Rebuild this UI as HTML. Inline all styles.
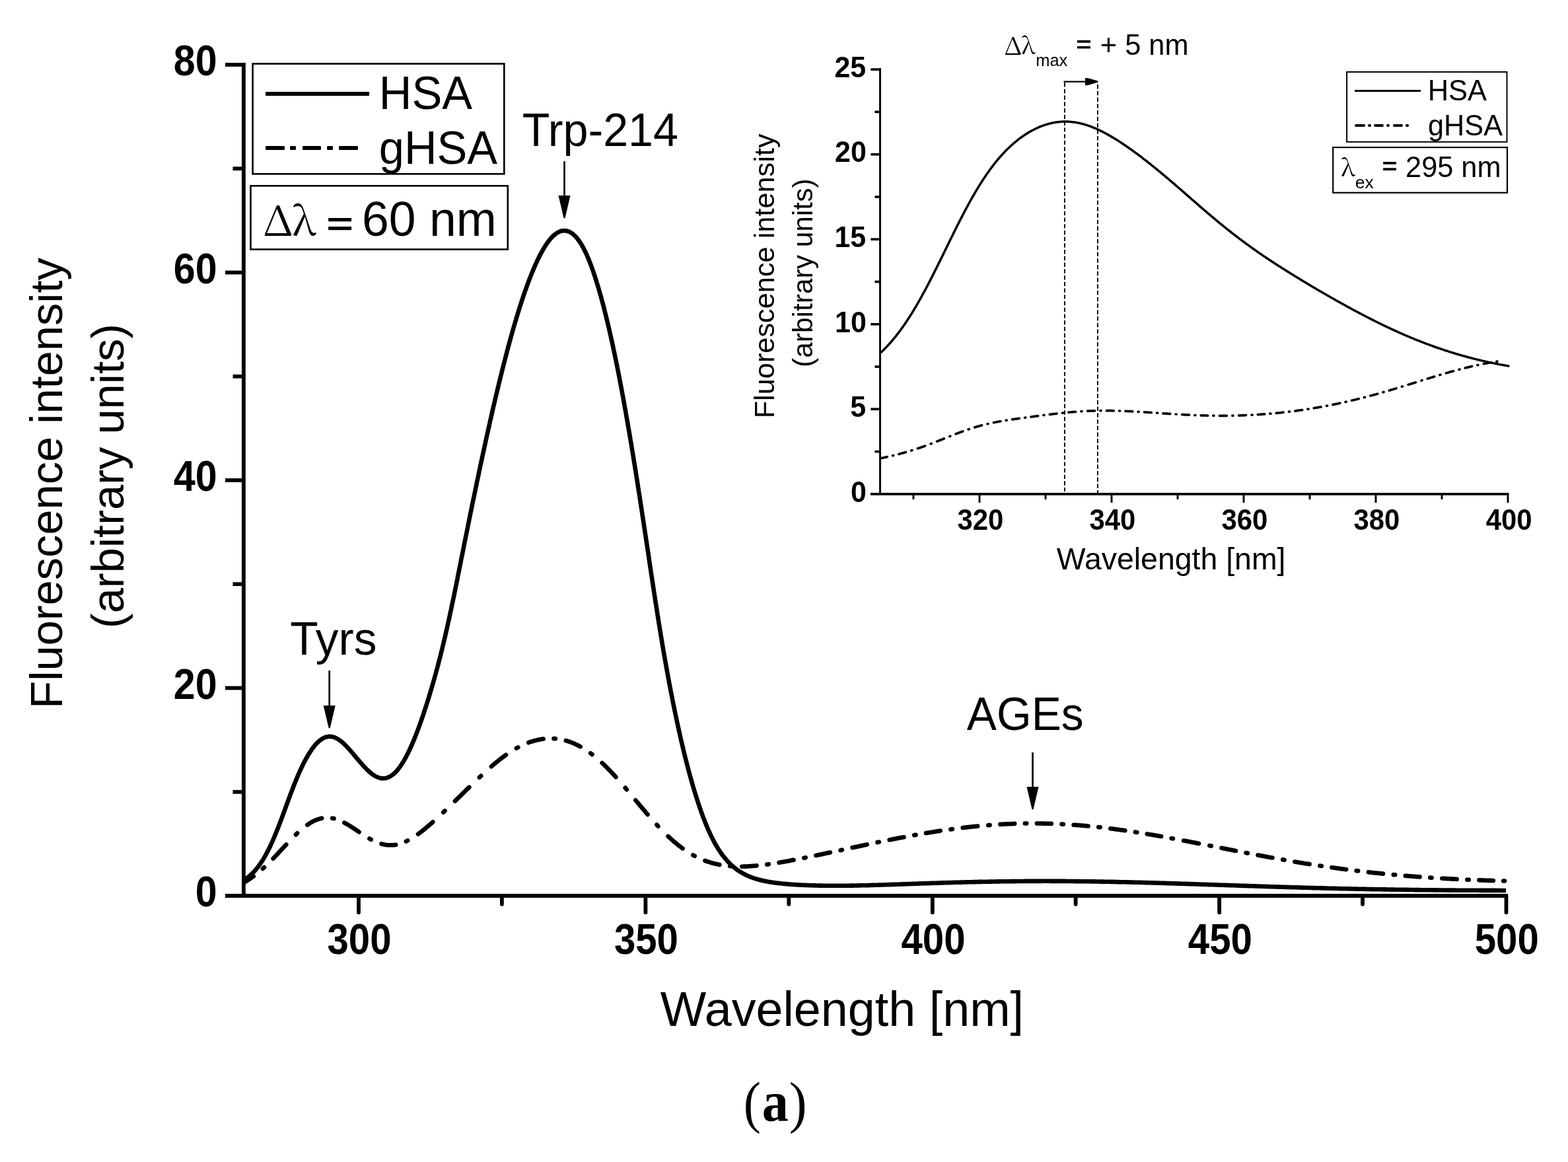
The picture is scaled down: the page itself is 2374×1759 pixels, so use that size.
<!DOCTYPE html>
<html><head><meta charset="utf-8"><title>Fluorescence spectra</title>
<style>html,body{margin:0;padding:0;background:#fff;overflow:hidden}svg{display:block}</style>
</head><body>
<svg width="2374" height="1759" viewBox="0 0 2374 1759">
<rect width="100%" height="100%" fill="#fff"/>
<g stroke="#000" stroke-width="5.8" fill="none">
<path d="M368.9 95.1V1356.0"/>
<path d="M341 1356.0H2282.9"/>
<path d="M341 1041.5H371"/>
<path d="M341 727.0H371"/>
<path d="M341 412.5H371"/>
<path d="M341 98.0H371"/>
<path d="M352.5 1198.8H371"/>
<path d="M352.5 884.2H371"/>
<path d="M352.5 569.8H371"/>
<path d="M352.5 255.2H371"/>
<path d="M543.0 1356.0V1381.3" stroke-linecap="round"/>
<path d="M977.4 1356.0V1381.3" stroke-linecap="round"/>
<path d="M1411.8 1356.0V1381.3" stroke-linecap="round"/>
<path d="M1846.1 1356.0V1381.3" stroke-linecap="round"/>
<path d="M2280.5 1356.0V1381.3" stroke-linecap="round"/>
<path d="M759.9 1356.0V1368.8" stroke-linecap="round"/>
<path d="M1194.3 1356.0V1368.8" stroke-linecap="round"/>
<path d="M1628.6 1356.0V1368.8" stroke-linecap="round"/>
<path d="M2063.0 1356.0V1368.8" stroke-linecap="round"/>
</g>
<text transform="matrix(0.9100 0 0 1.0000 295.64 1372.25)" style="font-family:'Liberation Sans',Arial,Helvetica,sans-serif;font-weight:bold;font-size:65.00px">0</text>
<text transform="matrix(0.9100 0 0 1.0000 262.75 1057.75)" style="font-family:'Liberation Sans',Arial,Helvetica,sans-serif;font-weight:bold;font-size:65.00px">20</text>
<text transform="matrix(0.9100 0 0 1.0000 262.75 743.25)" style="font-family:'Liberation Sans',Arial,Helvetica,sans-serif;font-weight:bold;font-size:65.00px">40</text>
<text transform="matrix(0.9100 0 0 1.0000 262.75 428.75)" style="font-family:'Liberation Sans',Arial,Helvetica,sans-serif;font-weight:bold;font-size:65.00px">60</text>
<text transform="matrix(0.9100 0 0 1.0000 262.75 114.25)" style="font-family:'Liberation Sans',Arial,Helvetica,sans-serif;font-weight:bold;font-size:65.00px">80</text>
<text transform="matrix(0.8950 0 0 1.0000 495.51 1444.29)" style="font-family:'Liberation Sans',Arial,Helvetica,sans-serif;font-weight:bold;font-size:65.00px">300</text>
<text transform="matrix(0.8950 0 0 1.0000 929.88 1444.29)" style="font-family:'Liberation Sans',Arial,Helvetica,sans-serif;font-weight:bold;font-size:65.00px">350</text>
<text transform="matrix(0.8950 0 0 1.0000 1364.49 1444.35)" style="font-family:'Liberation Sans',Arial,Helvetica,sans-serif;font-weight:bold;font-size:65.00px">400</text>
<text transform="matrix(0.8950 0 0 1.0000 1798.86 1444.35)" style="font-family:'Liberation Sans',Arial,Helvetica,sans-serif;font-weight:bold;font-size:65.00px">450</text>
<text transform="matrix(0.8950 0 0 1.0000 2232.77 1444.35)" style="font-family:'Liberation Sans',Arial,Helvetica,sans-serif;font-weight:bold;font-size:65.00px">500</text>
<text transform="matrix(1.0002 0 0 1.0000 999.83 1553.20)" style="font-family:'Liberation Sans',Arial,Helvetica,sans-serif;font-weight:normal;font-size:73.70px">Wavelength [nm]</text>
<text transform="matrix(0 -1.0001 1 0 94.00 1072.63)" style="font-family:'Liberation Sans',Arial,Helvetica,sans-serif;font-weight:normal;font-size:68.60px">Fluorescence intensity</text>
<text transform="matrix(0 -1.0003 1 0 187.30 951.15)" style="font-family:'Liberation Sans',Arial,Helvetica,sans-serif;font-weight:normal;font-size:68.60px">(arbitrary units)</text>
<path d="M368.0 1332.6L369.7 1331.7 371.5 1330.6 373.1 1329.5 374.8 1328.4 376.4 1327.2 377.9 1325.9 379.4 1324.6 380.9 1323.2 382.3 1321.8 383.7 1320.4 385.1 1319.0 386.4 1317.5 387.7 1315.9 389.0 1314.4 390.2 1312.8 391.4 1311.2 392.6 1309.6 393.8 1308.0 394.9 1306.3 396.0 1304.7 397.1 1303.0 398.2 1301.3 399.2 1299.6 400.2 1297.8 401.2 1296.1 402.2 1294.4 403.1 1292.6 404.1 1290.9 405.0 1289.1 405.9 1287.3 406.8 1285.5 407.7 1283.7 408.6 1281.9 409.5 1280.1 410.3 1278.3 411.1 1276.5 412.0 1274.7 412.8 1272.8 413.6 1271.0 414.4 1269.2 415.2 1267.3 415.9 1265.5 416.7 1263.6 417.5 1261.8 418.2 1259.9 419.0 1258.1 419.7 1256.2 420.5 1254.4 421.2 1252.5 421.9 1250.6 422.6 1248.8 423.4 1246.9 424.1 1245.0 424.8 1243.2 425.5 1241.3 426.2 1239.4 426.9 1237.5 427.6 1235.7 428.3 1233.8 429.0 1231.9 429.7 1230.0 430.4 1228.2 431.1 1226.3 431.7 1224.4 432.4 1222.5 433.1 1220.6 433.8 1218.8 434.5 1216.9 435.2 1215.0 435.9 1213.1 436.6 1211.3 437.2 1209.4 437.9 1207.5 438.6 1205.6 439.3 1203.7 440.0 1201.9 440.7 1200.0 441.4 1198.1 442.2 1196.3 442.9 1194.4 443.6 1192.5 444.3 1190.7 445.0 1188.8 445.8 1186.9 446.5 1185.1 447.3 1183.2 448.0 1181.4 448.8 1179.5 449.5 1177.7 450.3 1175.8 451.1 1174.0 451.9 1172.1 452.7 1170.3 453.5 1168.5 454.3 1166.7 455.2 1164.8 456.0 1163.0 456.9 1161.2 457.7 1159.4 458.6 1157.6 459.5 1155.8 460.4 1154.0 461.3 1152.3 462.3 1150.5 463.2 1148.7 464.2 1147.0 465.2 1145.3 466.2 1143.5 467.2 1141.8 468.3 1140.1 469.4 1138.4 470.5 1136.8 471.6 1135.1 472.7 1133.5 473.9 1131.9 475.2 1130.3 476.4 1128.7 477.7 1127.2 479.1 1125.7 480.5 1124.3 481.9 1122.9 483.4 1121.6 485.0 1120.3 486.6 1119.2 488.3 1118.1 490.0 1117.1 491.8 1116.3 493.7 1115.7 495.7 1115.2 497.7 1114.9 499.7 1114.9 501.7 1115.0 503.6 1115.4 505.5 1115.9 507.4 1116.6 509.2 1117.5 511.0 1118.4 512.7 1119.5 514.3 1120.6 515.9 1121.8 517.5 1123.1 519.0 1124.4 520.5 1125.7 521.9 1127.1 523.3 1128.5 524.7 1130.0 526.1 1131.4 527.5 1132.9 528.8 1134.4 530.1 1135.9 531.5 1137.4 532.8 1138.9 534.1 1140.4 535.4 1141.9 536.6 1143.5 537.9 1145.0 539.2 1146.5 540.5 1148.1 541.8 1149.6 543.1 1151.1 544.4 1152.7 545.7 1154.2 547.0 1155.7 548.3 1157.2 549.6 1158.7 551.0 1160.2 552.4 1161.6 553.8 1163.1 555.2 1164.5 556.6 1165.9 558.1 1167.2 559.5 1168.6 561.1 1169.9 562.6 1171.1 564.2 1172.3 565.9 1173.4 567.6 1174.5 569.3 1175.5 571.2 1176.3 573.0 1177.1 574.9 1177.6 576.9 1178.1 578.9 1178.3 580.9 1178.3 582.9 1178.2 584.8 1177.8 586.7 1177.2 588.6 1176.4 590.4 1175.5 592.1 1174.5 593.7 1173.4 595.3 1172.1 596.8 1170.8 598.3 1169.4 599.6 1168.0 601.0 1166.5 602.3 1165.0 603.5 1163.4 604.7 1161.8 605.9 1160.2 607.0 1158.6 608.2 1156.9 609.2 1155.2 610.3 1153.5 611.3 1151.8 612.3 1150.1 613.3 1148.3 614.3 1146.6 615.2 1144.8 616.1 1143.0 617.1 1141.2 618.0 1139.5 618.8 1137.7 619.7 1135.9 620.6 1134.0 621.4 1132.2 622.2 1130.4 623.0 1128.6 623.8 1126.8 624.6 1124.9 625.4 1123.1 626.2 1121.2 627.0 1119.4 627.7 1117.5 628.5 1115.7 629.2 1113.8 629.9 1112.0 630.7 1110.1 631.4 1108.2 632.1 1106.4 632.8 1104.5 633.5 1102.6 634.2 1100.7 634.9 1098.8 635.5 1097.0 636.2 1095.1 636.9 1093.2 637.6 1091.3 638.2 1089.4 638.9 1087.5 639.5 1085.6 640.2 1083.7 640.8 1081.8 641.4 1079.9 642.1 1078.0 642.7 1076.1 643.3 1074.2 643.9 1072.3 644.6 1070.4 645.2 1068.5 645.8 1066.6 646.4 1064.7 647.0 1062.8 647.6 1060.9 648.2 1059.0 648.8 1057.1 649.4 1055.2 649.9 1053.3 650.5 1051.3 651.1 1049.4 651.7 1047.5 652.2 1045.6 652.8 1043.7 653.4 1041.8 654.0 1039.8 654.5 1037.9 655.1 1036.0 655.6 1034.1 656.2 1032.2 656.7 1030.2 657.3 1028.3 657.8 1026.4 658.4 1024.5 658.9 1022.5 659.4 1020.6 660.0 1018.7 660.5 1016.7 661.0 1014.8 661.5 1012.9 662.1 1010.9 662.6 1009.0 663.1 1007.1 663.6 1005.1 664.1 1003.2 664.6 1001.3 665.1 999.3 665.6 997.4 666.1 995.5 666.6 993.5 667.1 991.6 667.6 989.6 668.0 987.7 668.5 985.8 669.0 983.8 669.5 981.9 670.0 979.9 670.4 978.0 670.9 976.0 671.4 974.1 671.8 972.1 672.3 970.2 672.7 968.3 673.2 966.3 673.7 964.4 674.1 962.4 674.6 960.5 675.0 958.5 675.4 956.6 675.9 954.6 676.3 952.7 676.8 950.7 677.2 948.7 677.6 946.8 678.1 944.8 678.5 942.9 678.9 940.9 679.4 939.0 679.8 937.0 680.2 935.1 680.7 933.1 681.1 931.2 681.5 929.2 681.9 927.3 682.3 925.3 682.8 923.3 683.2 921.4 683.6 919.4 684.0 917.5 684.4 915.5 684.8 913.5 685.2 911.6 685.6 909.6 686.0 907.7 686.5 905.7 686.9 903.8 687.3 901.8 687.7 899.8 688.1 897.9 688.5 895.9 688.9 894.0 689.3 892.0 689.7 890.0 690.1 888.1 690.5 886.1 690.9 884.2 691.3 882.2 691.7 880.2 692.1 878.3 692.5 876.3 692.8 874.3 693.2 872.4 693.6 870.4 694.0 868.5 694.4 866.5 694.8 864.5 695.2 862.6 695.6 860.6 696.0 858.7 696.4 856.7 696.8 854.7 697.2 852.8 697.6 850.8 697.9 848.8 698.3 846.9 698.7 844.9 699.1 843.0 699.5 841.0 699.9 839.0 700.3 837.1 700.7 835.1 701.1 833.1 701.5 831.2 701.9 829.2 702.2 827.3 702.6 825.3 703.0 823.3 703.4 821.4 703.8 819.4 704.2 817.5 704.6 815.5 705.0 813.5 705.4 811.6 705.8 809.6 706.2 807.6 706.6 805.7 707.0 803.7 707.4 801.8 707.8 799.8 708.2 797.8 708.5 795.9 708.9 793.9 709.3 792.0 709.7 790.0 710.1 788.0 710.5 786.1 710.9 784.1 711.3 782.1 711.7 780.2 712.1 778.2 712.5 776.3 712.9 774.3 713.3 772.3 713.7 770.4 714.1 768.4 714.5 766.5 714.9 764.5 715.3 762.5 715.7 760.6 716.1 758.6 716.5 756.7 716.9 754.7 717.4 752.7 717.8 750.8 718.2 748.8 718.6 746.9 719.0 744.9 719.4 743.0 719.8 741.0 720.2 739.0 720.6 737.1 721.0 735.1 721.4 733.2 721.8 731.2 722.2 729.2 722.6 727.3 723.1 725.3 723.5 723.4 723.9 721.4 724.3 719.5 724.7 717.5 725.1 715.5 725.5 713.6 725.9 711.6 726.4 709.7 726.8 707.7 727.2 705.7 727.6 703.8 728.0 701.8 728.4 699.9 728.9 697.9 729.3 696.0 729.7 694.0 730.1 692.1 730.5 690.1 731.0 688.1 731.4 686.2 731.8 684.2 732.2 682.3 732.7 680.3 733.1 678.4 733.5 676.4 733.9 674.5 734.4 672.5 734.8 670.5 735.2 668.6 735.6 666.6 736.1 664.7 736.5 662.7 736.9 660.8 737.4 658.8 737.8 656.9 738.2 654.9 738.7 653.0 739.1 651.0 739.5 649.1 740.0 647.1 740.4 645.1 740.8 643.2 741.3 641.2 741.7 639.3 742.1 637.3 742.6 635.4 743.0 633.4 743.5 631.5 743.9 629.5 744.4 627.6 744.8 625.6 745.3 623.7 745.7 621.7 746.1 619.8 746.6 617.8 747.0 615.9 747.5 613.9 748.0 612.0 748.4 610.0 748.9 608.1 749.3 606.1 749.8 604.2 750.2 602.2 750.7 600.3 751.1 598.4 751.6 596.4 752.1 594.5 752.5 592.5 753.0 590.6 753.5 588.6 753.9 586.7 754.4 584.7 754.9 582.8 755.3 580.8 755.8 578.9 756.3 577.0 756.8 575.0 757.2 573.1 757.7 571.1 758.2 569.2 758.7 567.2 759.2 565.3 759.6 563.4 760.1 561.4 760.6 559.5 761.1 557.5 761.6 555.6 762.1 553.7 762.6 551.7 763.1 549.8 763.6 547.8 764.1 545.9 764.6 544.0 765.1 542.0 765.6 540.1 766.1 538.2 766.6 536.2 767.1 534.3 767.6 532.3 768.1 530.4 768.6 528.5 769.1 526.5 769.6 524.6 770.2 522.7 770.7 520.7 771.2 518.8 771.7 516.9 772.3 515.0 772.8 513.0 773.3 511.1 773.9 509.2 774.4 507.2 774.9 505.3 775.5 503.4 776.0 501.5 776.6 499.5 777.1 497.6 777.7 495.7 778.2 493.8 778.8 491.9 779.4 489.9 779.9 488.0 780.5 486.1 781.1 484.2 781.6 482.3 782.2 480.3 782.8 478.4 783.4 476.5 783.9 474.6 784.5 472.7 785.1 470.8 785.7 468.9 786.3 467.0 786.9 465.0 787.5 463.1 788.1 461.2 788.8 459.3 789.4 457.4 790.0 455.5 790.6 453.6 791.3 451.7 791.9 449.8 792.5 447.9 793.2 446.0 793.8 444.1 794.5 442.3 795.1 440.4 795.8 438.5 796.5 436.6 797.1 434.7 797.8 432.8 798.5 431.0 799.2 429.1 799.9 427.2 800.6 425.3 801.3 423.5 802.0 421.6 802.8 419.7 803.5 417.9 804.2 416.0 805.0 414.1 805.7 412.3 806.5 410.4 807.3 408.6 808.0 406.8 808.8 404.9 809.6 403.1 810.4 401.3 811.3 399.4 812.1 397.6 812.9 395.8 813.8 394.0 814.6 392.2 815.5 390.4 816.4 388.6 817.3 386.8 818.2 385.0 819.2 383.3 820.1 381.5 821.1 379.8 822.1 378.0 823.1 376.3 824.2 374.6 825.2 372.9 826.3 371.2 827.4 369.5 828.5 367.9 829.7 366.3 830.9 364.7 832.1 363.1 833.4 361.6 834.7 360.1 836.1 358.6 837.5 357.2 839.0 355.8 840.5 354.6 842.2 353.4 843.8 352.3 845.6 351.3 847.4 350.5 849.3 349.8 851.3 349.4 853.2 349.2 855.2 349.2 857.2 349.4 859.2 349.8 861.1 350.5 862.9 351.3 864.6 352.3 866.3 353.4 867.9 354.7 869.4 356.0 870.8 357.4 872.2 358.8 873.5 360.3 874.7 361.9 875.9 363.5 877.1 365.1 878.2 366.8 879.3 368.5 880.3 370.2 881.4 371.9 882.3 373.7 883.3 375.4 884.2 377.2 885.1 379.0 886.0 380.8 886.9 382.6 887.7 384.4 888.5 386.2 889.3 388.0 890.1 389.9 890.9 391.7 891.7 393.6 892.4 395.4 893.1 397.3 893.9 399.2 894.6 401.0 895.3 402.9 895.9 404.8 896.6 406.7 897.3 408.6 898.0 410.4 898.6 412.3 899.2 414.2 899.9 416.1 900.5 418.0 901.1 419.9 901.7 421.8 902.3 423.7 902.9 425.6 903.5 427.6 904.1 429.5 904.7 431.4 905.3 433.3 905.9 435.2 906.4 437.1 907.0 439.1 907.5 441.0 908.1 442.9 908.6 444.8 909.2 446.8 909.7 448.7 910.2 450.6 910.8 452.5 911.3 454.5 911.8 456.4 912.3 458.3 912.8 460.3 913.4 462.2 913.9 464.1 914.4 466.1 914.9 468.0 915.3 470.0 915.8 471.9 916.3 473.8 916.8 475.8 917.3 477.7 917.8 479.7 918.2 481.6 918.7 483.5 919.2 485.5 919.7 487.4 920.1 489.4 920.6 491.3 921.0 493.3 921.5 495.2 922.0 497.2 922.4 499.1 922.9 501.1 923.3 503.0 923.7 505.0 924.2 506.9 924.6 508.9 925.1 510.8 925.5 512.8 925.9 514.7 926.4 516.7 926.8 518.6 927.2 520.6 927.6 522.6 928.1 524.5 928.5 526.5 928.9 528.4 929.3 530.4 929.7 532.3 930.1 534.3 930.6 536.3 931.0 538.2 931.4 540.2 931.8 542.1 932.2 544.1 932.6 546.1 933.0 548.0 933.4 550.0 933.8 551.9 934.2 553.9 934.6 555.9 935.0 557.8 935.3 559.8 935.7 561.7 936.1 563.7 936.5 565.7 936.9 567.6 937.3 569.6 937.7 571.6 938.0 573.5 938.4 575.5 938.8 577.5 939.2 579.4 939.5 581.4 939.9 583.3 940.3 585.3 940.7 587.3 941.0 589.2 941.4 591.2 941.8 593.2 942.1 595.1 942.5 597.1 942.9 599.1 943.2 601.0 943.6 603.0 944.0 605.0 944.3 607.0 944.7 608.9 945.0 610.9 945.4 612.9 945.7 614.8 946.1 616.8 946.4 618.8 946.8 620.7 947.1 622.7 947.5 624.7 947.8 626.6 948.2 628.6 948.5 630.6 948.9 632.6 949.2 634.5 949.6 636.5 949.9 638.5 950.3 640.4 950.6 642.4 950.9 644.4 951.3 646.4 951.6 648.3 952.0 650.3 952.3 652.3 952.6 654.2 953.0 656.2 953.3 658.2 953.6 660.2 954.0 662.1 954.3 664.1 954.6 666.1 955.0 668.1 955.3 670.0 955.6 672.0 956.0 674.0 956.3 675.9 956.6 677.9 956.9 679.9 957.3 681.9 957.6 683.8 957.9 685.8 958.2 687.8 958.6 689.8 958.9 691.7 959.2 693.7 959.5 695.7 959.8 697.7 960.2 699.6 960.5 701.6 960.8 703.6 961.1 705.6 961.4 707.5 961.7 709.5 962.1 711.5 962.4 713.5 962.7 715.4 963.0 717.4 963.3 719.4 963.6 721.4 963.9 723.3 964.3 725.3 964.6 727.3 964.9 729.3 965.2 731.3 965.5 733.2 965.8 735.2 966.1 737.2 966.4 739.2 966.7 741.1 967.0 743.1 967.3 745.1 967.7 747.1 968.0 749.0 968.3 751.0 968.6 753.0 968.9 755.0 969.2 757.0 969.5 758.9 969.8 760.9 970.1 762.9 970.4 764.9 970.7 766.8 971.0 768.8 971.3 770.8 971.6 772.8 971.9 774.8 972.2 776.7 972.5 778.7 972.8 780.7 973.1 782.7 973.4 784.6 973.7 786.6 974.0 788.6 974.3 790.6 974.6 792.6 974.9 794.5 975.2 796.5 975.5 798.5 975.8 800.5 976.1 802.4 976.4 804.4 976.7 806.4 977.0 808.4 977.3 810.4 977.6 812.3 977.9 814.3 978.2 816.3 978.5 818.3 978.8 820.3 979.1 822.2 979.4 824.2 979.7 826.2 980.0 828.2 980.3 830.1 980.6 832.1 980.9 834.1 981.2 836.1 981.5 838.1 981.8 840.0 982.1 842.0 982.4 844.0 982.6 846.0 982.9 848.0 983.2 849.9 983.5 851.9 983.8 853.9 984.1 855.9 984.4 857.8 984.7 859.8 985.0 861.8 985.3 863.8 985.6 865.8 985.9 867.7 986.2 869.7 986.5 871.7 986.8 873.7 987.1 875.7 987.4 877.6 987.7 879.6 988.0 881.6 988.3 883.6 988.6 885.5 988.9 887.5 989.2 889.5 989.5 891.5 989.8 893.5 990.1 895.4 990.4 897.4 990.7 899.4 991.0 901.4 991.3 903.3 991.6 905.3 991.9 907.3 992.2 909.3 992.5 911.3 992.9 913.2 993.2 915.2 993.5 917.2 993.8 919.2 994.1 921.1 994.4 923.1 994.7 925.1 995.0 927.1 995.3 929.0 995.6 931.0 995.9 933.0 996.3 935.0 996.6 936.9 996.9 938.9 997.2 940.9 997.5 942.9 997.8 944.9 998.2 946.8 998.5 948.8 998.8 950.8 999.1 952.8 999.4 954.7 999.8 956.7 1000.1 958.7 1000.4 960.6 1000.7 962.6 1001.1 964.6 1001.4 966.6 1001.7 968.5 1002.0 970.5 1002.4 972.5 1002.7 974.5 1003.0 976.4 1003.4 978.4 1003.7 980.4 1004.0 982.4 1004.4 984.3 1004.7 986.3 1005.1 988.3 1005.4 990.2 1005.7 992.2 1006.1 994.2 1006.4 996.2 1006.8 998.1 1007.1 1000.1 1007.5 1002.1 1007.8 1004.0 1008.2 1006.0 1008.5 1008.0 1008.9 1009.9 1009.2 1011.9 1009.6 1013.9 1009.9 1015.9 1010.3 1017.8 1010.7 1019.8 1011.0 1021.8 1011.4 1023.7 1011.7 1025.7 1012.1 1027.7 1012.5 1029.6 1012.8 1031.6 1013.2 1033.6 1013.6 1035.5 1014.0 1037.5 1014.3 1039.5 1014.7 1041.4 1015.1 1043.4 1015.5 1045.4 1015.8 1047.3 1016.2 1049.3 1016.6 1051.2 1017.0 1053.2 1017.4 1055.2 1017.8 1057.1 1018.1 1059.1 1018.5 1061.1 1018.9 1063.0 1019.3 1065.0 1019.7 1066.9 1020.1 1068.9 1020.5 1070.9 1020.9 1072.8 1021.3 1074.8 1021.7 1076.7 1022.1 1078.7 1022.5 1080.7 1022.9 1082.6 1023.3 1084.6 1023.8 1086.5 1024.2 1088.5 1024.6 1090.5 1025.0 1092.4 1025.4 1094.4 1025.9 1096.3 1026.3 1098.3 1026.7 1100.2 1027.1 1102.2 1027.6 1104.1 1028.0 1106.1 1028.4 1108.0 1028.9 1110.0 1029.3 1111.9 1029.7 1113.9 1030.2 1115.9 1030.6 1117.8 1031.1 1119.8 1031.5 1121.7 1032.0 1123.7 1032.4 1125.6 1032.9 1127.5 1033.4 1129.5 1033.8 1131.4 1034.3 1133.4 1034.7 1135.3 1035.2 1137.3 1035.7 1139.2 1036.2 1141.2 1036.6 1143.1 1037.1 1145.0 1037.6 1147.0 1038.1 1148.9 1038.6 1150.9 1039.1 1152.8 1039.6 1154.7 1040.1 1156.7 1040.6 1158.6 1041.1 1160.6 1041.6 1162.5 1042.1 1164.4 1042.6 1166.4 1043.1 1168.3 1043.6 1170.2 1044.2 1172.2 1044.7 1174.1 1045.2 1176.0 1045.8 1177.9 1046.3 1179.9 1046.8 1181.8 1047.4 1183.7 1047.9 1185.6 1048.5 1187.6 1049.1 1189.5 1049.6 1191.4 1050.2 1193.3 1050.8 1195.2 1051.3 1197.2 1051.9 1199.1 1052.5 1201.0 1053.1 1202.9 1053.7 1204.8 1054.3 1206.7 1054.9 1208.6 1055.5 1210.5 1056.1 1212.4 1056.7 1214.3 1057.3 1216.2 1058.0 1218.1 1058.6 1220.0 1059.3 1221.9 1059.9 1223.8 1060.6 1225.7 1061.2 1227.6 1061.9 1229.5 1062.6 1231.4 1063.3 1233.3 1063.9 1235.1 1064.6 1237.0 1065.4 1238.9 1066.1 1240.7 1066.8 1242.6 1067.5 1244.5 1068.3 1246.3 1069.0 1248.2 1069.8 1250.0 1070.6 1251.9 1071.3 1253.7 1072.1 1255.6 1072.9 1257.4 1073.8 1259.2 1074.6 1261.0 1075.4 1262.8 1076.3 1264.6 1077.2 1266.4 1078.1 1268.2 1079.0 1270.0 1079.9 1271.8 1080.8 1273.6 1081.8 1275.3 1082.7 1277.1 1083.7 1278.8 1084.7 1280.6 1085.8 1282.3 1086.8 1284.0 1087.9 1285.7 1089.0 1287.4 1090.1 1289.0 1091.2 1290.7 1092.3 1292.3 1093.5 1293.9 1094.7 1295.5 1096.0 1297.1 1097.2 1298.7 1098.5 1300.2 1099.8 1301.7 1101.1 1303.2 1102.5 1304.7 1103.9 1306.1 1105.3 1307.5 1106.7 1308.9 1108.2 1310.3 1109.7 1311.6 1111.2 1312.9 1112.8 1314.1 1114.4 1315.4 1116.0 1316.6 1117.6 1317.7 1119.3 1318.8 1121.0 1319.9 1122.7 1320.9 1124.4 1321.9 1126.2 1322.9 1127.9 1323.8 1129.7 1324.7 1131.6 1325.5 1133.4 1326.3 1135.2 1327.1 1137.1 1327.8 1139.0 1328.5 1140.9 1329.2 1142.8 1329.8 1144.7 1330.4 1146.6 1331.0 1148.5 1331.5 1150.4 1332.0 1152.4 1332.5 1154.3 1333.0 1156.3 1333.4 1158.2 1333.8 1160.2 1334.2 1162.2 1334.6 1164.1 1334.9 1166.1 1335.2 1168.1 1335.6 1170.1 1335.9 1172.1 1336.1 1174.0 1336.4 1176.0 1336.6 1178.0 1336.9 1180.0 1337.1 1182.0 1337.3 1184.0 1337.5 1186.0 1337.7 1188.0 1337.9 1190.0 1338.1 1191.9 1338.3 1193.9 1338.4 1195.9 1338.6 1197.9 1338.7 1199.9 1338.9 1201.9 1339.0 1203.9 1339.1 1205.9 1339.3 1207.9 1339.4 1209.9 1339.5 1211.9 1339.6 1213.9 1339.7 1215.9 1339.8 1217.9 1339.9 1219.9 1339.9 1221.9 1340.0 1223.9 1340.1 1225.9 1340.2 1227.9 1340.2 1229.9 1340.3 1231.9 1340.4 1233.9 1340.4 1235.9 1340.5 1237.9 1340.5 1239.9 1340.6 1241.9 1340.6 1243.9 1340.6 1245.9 1340.7 1247.9 1340.7 1249.9 1340.7 1251.9 1340.7 1253.9 1340.8 1255.9 1340.8 1257.9 1340.8 1259.9 1340.8 1261.9 1340.8 1263.9 1340.8 1265.9 1340.8 1267.9 1340.8 1269.9 1340.8 1271.9 1340.8 1273.9 1340.8 1275.9 1340.8 1277.9 1340.8 1279.9 1340.7 1281.9 1340.7 1283.9 1340.7 1285.9 1340.7 1287.9 1340.6 1289.9 1340.6 1291.9 1340.6 1293.9 1340.5 1295.9 1340.5 1297.9 1340.5 1299.9 1340.4 1301.9 1340.4 1303.9 1340.3 1305.9 1340.3 1307.9 1340.3 1309.9 1340.2 1311.9 1340.2 1313.9 1340.1 1315.9 1340.1 1317.9 1340.0 1319.9 1339.9 1321.9 1339.9 1323.9 1339.8 1325.9 1339.8 1327.9 1339.7 1329.9 1339.6 1331.9 1339.6 1333.9 1339.5 1335.9 1339.5 1337.9 1339.4 1339.9 1339.3 1341.9 1339.3 1343.9 1339.2 1345.9 1339.1 1347.9 1339.1 1349.9 1339.0 1351.9 1338.9 1353.9 1338.9 1355.9 1338.8 1357.9 1338.7 1359.9 1338.7 1361.9 1338.6 1363.9 1338.5 1365.9 1338.4 1367.9 1338.4 1369.9 1338.3 1371.9 1338.2 1373.9 1338.2 1375.9 1338.1 1377.9 1338.0 1379.9 1338.0 1381.9 1337.9 1383.9 1337.8 1385.9 1337.8 1387.9 1337.7 1389.9 1337.6 1391.9 1337.5 1393.9 1337.5 1395.9 1337.4 1397.9 1337.3 1399.9 1337.3 1401.9 1337.2 1403.9 1337.1 1405.9 1337.1 1407.9 1337.0 1409.9 1336.9 1411.9 1336.9 1413.9 1336.8 1415.9 1336.7 1417.9 1336.7 1419.9 1336.6 1421.9 1336.6 1423.9 1336.5 1425.9 1336.4 1427.9 1336.4 1429.9 1336.3 1431.9 1336.2 1433.9 1336.2 1435.9 1336.1 1437.9 1336.1 1439.9 1336.0 1441.9 1336.0 1443.9 1335.9 1445.9 1335.8 1447.9 1335.8 1449.9 1335.7 1451.9 1335.7 1453.9 1335.6 1455.9 1335.6 1457.9 1335.5 1459.9 1335.5 1461.9 1335.4 1463.9 1335.4 1465.9 1335.3 1467.9 1335.3 1469.9 1335.2 1471.9 1335.2 1473.9 1335.1 1475.9 1335.1 1477.9 1335.0 1479.9 1335.0 1481.9 1334.9 1483.9 1334.9 1485.9 1334.9 1487.9 1334.8 1489.9 1334.8 1491.9 1334.7 1493.9 1334.7 1495.9 1334.7 1497.9 1334.6 1499.9 1334.6 1501.9 1334.6 1503.9 1334.5 1505.9 1334.5 1507.9 1334.5 1509.9 1334.4 1511.9 1334.4 1513.9 1334.4 1515.9 1334.3 1517.9 1334.3 1519.9 1334.3 1521.9 1334.2 1523.9 1334.2 1525.9 1334.2 1527.9 1334.2 1529.9 1334.1 1531.9 1334.1 1533.9 1334.1 1535.9 1334.1 1537.9 1334.1 1539.9 1334.0 1541.9 1334.0 1543.9 1334.0 1545.9 1334.0 1547.9 1334.0 1549.9 1334.0 1551.9 1333.9 1553.9 1333.9 1555.9 1333.9 1557.9 1333.9 1559.9 1333.9 1561.9 1333.9 1563.9 1333.9 1565.9 1333.9 1567.9 1333.9 1569.9 1333.9 1571.9 1333.9 1573.9 1333.9 1575.9 1333.9 1577.9 1333.8 1579.9 1333.8 1581.9 1333.8 1583.9 1333.8 1585.9 1333.8 1587.9 1333.8 1589.9 1333.9 1591.9 1333.9 1593.9 1333.9 1595.9 1333.9 1597.9 1333.9 1599.9 1333.9 1601.9 1333.9 1603.9 1333.9 1605.9 1333.9 1607.9 1333.9 1609.9 1333.9 1611.9 1333.9 1613.9 1334.0 1615.9 1334.0 1617.9 1334.0 1619.9 1334.0 1621.9 1334.0 1623.9 1334.0 1625.9 1334.0 1627.9 1334.1 1629.9 1334.1 1631.9 1334.1 1633.9 1334.1 1635.9 1334.1 1637.9 1334.2 1639.9 1334.2 1641.9 1334.2 1643.9 1334.2 1645.9 1334.3 1648.0 1334.3 1650.0 1334.3 1652.0 1334.4 1654.0 1334.4 1656.0 1334.4 1658.0 1334.4 1660.0 1334.5 1662.0 1334.5 1664.0 1334.5 1666.0 1334.6 1668.0 1334.6 1670.0 1334.6 1672.0 1334.7 1674.0 1334.7 1676.0 1334.7 1678.0 1334.8 1680.0 1334.8 1682.0 1334.9 1684.0 1334.9 1686.0 1334.9 1688.0 1335.0 1690.0 1335.0 1692.0 1335.1 1694.0 1335.1 1696.0 1335.2 1698.0 1335.2 1700.0 1335.2 1702.0 1335.3 1704.0 1335.3 1706.0 1335.4 1708.0 1335.4 1710.0 1335.5 1712.0 1335.5 1714.0 1335.6 1716.0 1335.6 1718.0 1335.7 1720.0 1335.7 1722.0 1335.8 1724.0 1335.8 1726.0 1335.9 1728.0 1335.9 1730.0 1336.0 1732.0 1336.0 1734.0 1336.1 1736.0 1336.1 1738.0 1336.2 1740.0 1336.2 1742.0 1336.3 1744.0 1336.4 1746.0 1336.4 1748.0 1336.5 1750.0 1336.5 1752.0 1336.6 1754.0 1336.6 1756.0 1336.7 1758.0 1336.8 1760.0 1336.8 1762.0 1336.9 1764.0 1336.9 1766.0 1337.0 1768.0 1337.1 1770.0 1337.1 1772.0 1337.2 1774.0 1337.2 1776.0 1337.3 1778.0 1337.4 1780.0 1337.4 1782.0 1337.5 1784.0 1337.6 1786.0 1337.6 1788.0 1337.7 1790.0 1337.7 1792.0 1337.8 1794.0 1337.9 1796.0 1337.9 1798.0 1338.0 1800.0 1338.1 1802.0 1338.1 1804.0 1338.2 1806.0 1338.3 1808.0 1338.3 1810.0 1338.4 1812.0 1338.5 1814.0 1338.5 1816.0 1338.6 1818.0 1338.7 1820.0 1338.7 1822.0 1338.8 1824.0 1338.9 1826.0 1338.9 1828.0 1339.0 1830.0 1339.1 1832.0 1339.1 1833.9 1339.2 1835.9 1339.3 1837.9 1339.3 1839.9 1339.4 1841.9 1339.5 1843.9 1339.5 1845.9 1339.6 1847.9 1339.7 1849.9 1339.7 1851.9 1339.8 1853.9 1339.9 1855.9 1339.9 1857.9 1340.0 1859.9 1340.1 1861.9 1340.1 1863.9 1340.2 1865.9 1340.3 1867.9 1340.3 1869.9 1340.4 1871.9 1340.5 1873.9 1340.5 1875.9 1340.6 1877.9 1340.7 1879.9 1340.7 1881.9 1340.8 1883.9 1340.9 1885.9 1340.9 1887.9 1341.0 1889.9 1341.1 1891.9 1341.1 1893.9 1341.2 1895.9 1341.3 1897.9 1341.3 1899.9 1341.4 1901.9 1341.5 1903.9 1341.5 1905.9 1341.6 1907.9 1341.7 1909.9 1341.7 1911.9 1341.8 1913.9 1341.9 1915.9 1341.9 1917.9 1342.0 1919.9 1342.1 1921.9 1342.1 1923.9 1342.2 1925.9 1342.2 1927.9 1342.3 1929.9 1342.4 1931.9 1342.4 1933.9 1342.5 1935.9 1342.6 1937.9 1342.6 1939.9 1342.7 1941.9 1342.7 1943.9 1342.8 1945.9 1342.9 1947.9 1342.9 1949.9 1343.0 1951.9 1343.0 1953.9 1343.1 1955.9 1343.2 1957.9 1343.2 1959.9 1343.3 1961.9 1343.3 1963.9 1343.4 1965.9 1343.4 1967.9 1343.5 1969.9 1343.6 1971.9 1343.6 1973.9 1343.7 1975.9 1343.7 1977.9 1343.8 1979.9 1343.8 1981.9 1343.9 1983.9 1344.0 1985.9 1344.0 1987.9 1344.1 1989.9 1344.1 1991.9 1344.2 1993.9 1344.2 1995.9 1344.3 1997.9 1344.3 1999.9 1344.4 2001.9 1344.4 2003.9 1344.5 2005.9 1344.5 2007.9 1344.6 2009.9 1344.6 2011.9 1344.7 2013.9 1344.7 2015.9 1344.8 2017.9 1344.8 2019.9 1344.9 2021.9 1344.9 2023.9 1345.0 2025.9 1345.0 2027.9 1345.1 2029.9 1345.1 2031.9 1345.2 2033.9 1345.2 2035.9 1345.2 2037.9 1345.3 2039.9 1345.3 2041.9 1345.4 2043.9 1345.4 2045.9 1345.5 2047.9 1345.5 2049.9 1345.5 2051.9 1345.6 2053.9 1345.6 2055.9 1345.7 2057.9 1345.7 2059.9 1345.8 2061.9 1345.8 2063.9 1345.8 2065.9 1345.9 2067.9 1345.9 2069.9 1346.0 2071.9 1346.0 2073.9 1346.0 2075.9 1346.1 2077.9 1346.1 2079.9 1346.1 2081.9 1346.2 2083.9 1346.2 2085.9 1346.2 2087.9 1346.3 2089.9 1346.3 2091.9 1346.3 2093.9 1346.4 2095.9 1346.4 2097.9 1346.4 2099.9 1346.5 2101.9 1346.5 2103.9 1346.5 2105.9 1346.6 2107.9 1346.6 2109.9 1346.6 2111.9 1346.7 2113.9 1346.7 2115.9 1346.7 2117.9 1346.8 2119.9 1346.8 2121.9 1346.8 2123.9 1346.8 2125.9 1346.9 2127.9 1346.9 2130.0 1346.9 2132.0 1346.9 2134.0 1347.0 2136.0 1347.0 2138.0 1347.0 2140.0 1347.0 2142.0 1347.1 2144.0 1347.1 2146.0 1347.1 2148.0 1347.1 2150.0 1347.2 2152.0 1347.2 2154.0 1347.2 2156.0 1347.2 2158.0 1347.3 2160.0 1347.3 2162.0 1347.3 2164.0 1347.3 2166.0 1347.3 2168.0 1347.4 2170.0 1347.4 2172.0 1347.4 2174.0 1347.4 2176.0 1347.4 2178.0 1347.5 2180.0 1347.5 2182.0 1347.5 2184.0 1347.5 2186.0 1347.5 2188.0 1347.5 2190.0 1347.6 2192.0 1347.6 2194.0 1347.6 2196.0 1347.6 2198.0 1347.6 2200.0 1347.6 2202.0 1347.6 2204.0 1347.7 2206.0 1347.7 2208.0 1347.7 2210.0 1347.7 2212.0 1347.7 2214.0 1347.7 2216.0 1347.7 2218.0 1347.7 2220.0 1347.8 2222.0 1347.8 2224.0 1347.8 2226.0 1347.8 2228.0 1347.8 2230.0 1347.8 2232.0 1347.8 2234.0 1347.8 2236.0 1347.8 2238.0 1347.8 2240.0 1347.9 2242.0 1347.9 2244.0 1347.9 2246.0 1347.9 2248.0 1347.9 2250.0 1347.9 2252.0 1347.9 2254.0 1347.9 2256.0 1347.9 2258.0 1347.9 2260.0 1347.9 2262.0 1347.9 2264.0 1347.9 2266.0 1347.9 2268.0 1348.0 2270.0 1348.0 2272.0 1348.0 2274.0 1348.0 2276.0 1348.0 2278.0 1348.0 2280.0 1348.0" fill="none" stroke="#000" stroke-width="6.6" stroke-linejoin="round"/>
<path d="M369.5 1335.9L370.7 1335.2 372.0 1334.4 373.2 1333.7 374.4 1332.9 375.6 1332.2 376.8 1331.4 378.0 1330.6 379.2 1329.8 380.4 1329.0 381.5 1328.2 382.7 1327.3 383.9 1326.5M397.9 1314.9L399.0 1314.0 400.0 1313.0M413.6 1299.6L414.6 1298.6 415.6 1297.5 416.6 1296.5 417.6 1295.4 418.6 1294.4 419.6 1293.3 420.6 1292.3 421.5 1291.2 422.5 1290.2 423.5 1289.1 424.5 1288.1 425.5 1287.0 426.4 1285.9 427.4 1284.9 428.4 1283.8 429.4 1282.7 430.4 1281.7 431.3 1280.6 432.3 1279.6 433.3 1278.5M447.9 1263.5L448.6 1262.7 449.4 1262.0 450.1 1261.3M465.3 1248.7L466.5 1247.9 467.7 1247.1 468.9 1246.3 470.1 1245.5 471.3 1244.8 472.6 1244.1 473.9 1243.4 475.1 1242.8 476.4 1242.2 477.7 1241.6 479.1 1241.1 480.4 1240.6 481.8 1240.1 483.1 1239.7 484.5 1239.3 485.9 1238.9 487.3 1238.6M503.1 1238.6L504.3 1238.9 505.5 1239.1M521.3 1245.4L522.6 1246.1 523.9 1246.8 525.2 1247.5 526.4 1248.2 527.7 1249.0 528.9 1249.7 530.2 1250.5 531.4 1251.3 532.6 1252.1 533.9 1252.9 535.1 1253.7 536.3 1254.5 537.5 1255.3 538.7 1256.1 539.9 1256.9 541.2 1257.8 542.4 1258.6 543.6 1259.4M559.4 1269.5L560.6 1270.1 561.8 1270.8M577.4 1277.4L578.8 1277.7 580.3 1278.1 581.7 1278.4 583.1 1278.7 584.6 1278.9 586.0 1279.1 587.5 1279.2 589.0 1279.3 590.4 1279.3 591.9 1279.3 593.4 1279.3 594.8 1279.2 596.3 1279.1 597.7 1278.9 599.2 1278.7M614.8 1273.6L616.0 1273.0 617.2 1272.4M633.0 1262.6L634.2 1261.7 635.4 1260.8 636.5 1260.0 637.7 1259.1 638.8 1258.2 639.9 1257.3 641.1 1256.4 642.2 1255.5 643.3 1254.6 644.4 1253.7 645.5 1252.8 646.6 1251.8 647.7 1250.9 648.8 1250.0 649.9 1249.0 651.0 1248.1 652.1 1247.1 653.2 1246.2 654.3 1245.2 655.3 1244.3M671.1 1229.7L671.9 1229.0 672.7 1228.2 673.5 1227.4M688.9 1212.6L690.0 1211.5 691.1 1210.5 692.2 1209.4 693.2 1208.4 694.3 1207.3 695.4 1206.3 696.5 1205.3 697.5 1204.2 698.6 1203.2 699.7 1202.1 700.7 1201.1 701.8 1200.0 702.9 1199.0 703.9 1197.9 705.0 1196.9 706.1 1195.8 707.2 1194.8 708.2 1193.7 709.3 1192.7 710.4 1191.7M725.8 1176.8L726.6 1176.0 727.4 1175.3 728.2 1174.6M743.9 1160.3L745.0 1159.4 746.1 1158.4 747.3 1157.4 748.4 1156.5 749.5 1155.5 750.7 1154.6 751.8 1153.6 753.0 1152.7 754.2 1151.7 755.3 1150.8 756.5 1149.9 757.7 1149.0 758.8 1148.1 760.0 1147.2 761.2 1146.3 762.4 1145.4 763.6 1144.5 764.8 1143.6 766.0 1142.8M781.9 1132.7L783.1 1132.0 784.3 1131.4M800.2 1124.1L801.6 1123.6 803.0 1123.2 804.3 1122.7 805.7 1122.3 807.1 1121.8 808.5 1121.4 809.9 1121.1 811.3 1120.7 812.7 1120.4 814.1 1120.0 815.5 1119.7 816.9 1119.5 818.3 1119.2 819.7 1119.0 821.2 1118.8 822.6 1118.6M838.5 1118.0L839.7 1118.1 840.9 1118.2M856.7 1121.1L858.2 1121.5 859.6 1122.0 861.0 1122.4 862.4 1122.9 863.8 1123.4 865.2 1123.9 866.6 1124.5 868.0 1125.0 869.4 1125.6 870.7 1126.2 872.1 1126.9 873.4 1127.5 874.8 1128.2 876.1 1128.8 877.4 1129.5 878.7 1130.3M894.1 1140.2L895.3 1141.1 896.5 1142.0M911.6 1154.9L912.7 1155.9 913.8 1156.9 914.8 1158.0 915.9 1159.0 917.0 1160.0 918.0 1161.1 919.1 1162.1 920.1 1163.2 921.2 1164.3 922.2 1165.3 923.2 1166.4 924.3 1167.5 925.3 1168.5 926.3 1169.6 927.3 1170.7 928.3 1171.8 929.4 1172.9 930.4 1174.0 931.4 1175.1 932.4 1176.2M946.7 1192.6L947.4 1193.5 948.2 1194.3 948.9 1195.2M962.3 1211.3L963.3 1212.5 964.3 1213.6 965.2 1214.8 966.2 1215.9 967.1 1217.1 968.1 1218.2 969.0 1219.4 970.0 1220.5 971.0 1221.6 971.9 1222.8 972.9 1223.9 973.8 1225.1 974.8 1226.2 975.8 1227.4 976.7 1228.5 977.7 1229.6 978.7 1230.8 979.6 1231.9 980.6 1233.0M994.3 1248.4L995.0 1249.2 995.8 1250.0 996.5 1250.8M1011.5 1265.9L1012.5 1266.9 1013.6 1267.8 1014.6 1268.8 1015.7 1269.8 1016.8 1270.7 1017.8 1271.7 1018.9 1272.6 1020.0 1273.6 1021.1 1274.5 1022.2 1275.4 1023.3 1276.4 1024.4 1277.3 1025.5 1278.2 1026.6 1279.1 1027.8 1280.0 1028.9 1280.8 1030.0 1281.7 1031.2 1282.6 1032.3 1283.4 1033.5 1284.3M1049.3 1294.4L1050.5 1295.1 1051.7 1295.7M1067.4 1302.8L1068.7 1303.3 1070.0 1303.8 1071.4 1304.3 1072.8 1304.7 1074.1 1305.2 1075.5 1305.6 1076.9 1306.0 1078.2 1306.4 1079.6 1306.8 1081.0 1307.1 1082.4 1307.5 1083.8 1307.8 1085.2 1308.1 1086.6 1308.4 1088.0 1308.7 1089.4 1309.0M1105.2 1311.1L1106.4 1311.2 1107.6 1311.3M1123.4 1311.7L1124.9 1311.7 1126.3 1311.6 1127.8 1311.6 1129.3 1311.5 1130.8 1311.5 1132.2 1311.4 1133.7 1311.3 1135.2 1311.2 1136.7 1311.1 1138.1 1311.0 1139.6 1310.9 1141.1 1310.8 1142.6 1310.7 1144.0 1310.5 1145.5 1310.4M1161.3 1308.6L1162.5 1308.4 1163.7 1308.2M1179.5 1305.8L1181.0 1305.5 1182.4 1305.3 1183.9 1305.0 1185.4 1304.8 1186.9 1304.5 1188.3 1304.2 1189.8 1304.0 1191.3 1303.7 1192.8 1303.4 1194.2 1303.2 1195.7 1302.9 1197.2 1302.6 1198.6 1302.3 1200.1 1302.1 1201.6 1301.8M1217.3 1298.7L1218.5 1298.5 1219.7 1298.2M1235.3 1295.0L1236.7 1294.7 1238.2 1294.4 1239.6 1294.1 1241.0 1293.8 1242.5 1293.5 1243.9 1293.2 1245.4 1292.9 1246.8 1292.6 1248.3 1292.3 1249.7 1291.9 1251.2 1291.6 1252.6 1291.3 1254.1 1291.0 1255.5 1290.7 1256.9 1290.4M1272.5 1287.1L1273.7 1286.8 1274.9 1286.5M1290.6 1283.1L1292.0 1282.9 1293.4 1282.6 1294.8 1282.3 1296.1 1282.0 1297.5 1281.7 1298.9 1281.4 1300.3 1281.1 1301.7 1280.8 1303.1 1280.5 1304.4 1280.2 1305.8 1279.9 1307.2 1279.6 1308.6 1279.3 1310.0 1279.0 1311.4 1278.7 1312.7 1278.4M1328.5 1275.1L1329.7 1274.9 1330.9 1274.6M1346.6 1271.4L1348.0 1271.1 1349.5 1270.9 1351.0 1270.6 1352.4 1270.3 1353.9 1270.0 1355.3 1269.7 1356.8 1269.4 1358.3 1269.1 1359.7 1268.8 1361.2 1268.6 1362.6 1268.3 1364.1 1268.0 1365.6 1267.7 1367.0 1267.4 1368.5 1267.2M1384.1 1264.3L1385.3 1264.0 1386.5 1263.8M1402.0 1261.1L1403.5 1260.9 1404.9 1260.6 1406.4 1260.4 1407.8 1260.2 1409.3 1259.9 1410.7 1259.7 1412.2 1259.5 1413.6 1259.2 1415.1 1259.0 1416.5 1258.8 1417.9 1258.5 1419.4 1258.3 1420.8 1258.1 1422.3 1257.9 1423.7 1257.6M1439.4 1255.4L1440.6 1255.2 1441.8 1255.1M1457.7 1253.0L1459.1 1252.9 1460.5 1252.7 1462.0 1252.5 1463.4 1252.4 1464.8 1252.2 1466.2 1252.0 1467.6 1251.9 1469.0 1251.7 1470.4 1251.6 1471.8 1251.4 1473.2 1251.3 1474.6 1251.1 1476.0 1251.0 1477.4 1250.9 1478.8 1250.7 1480.2 1250.6M1496.2 1249.2L1497.4 1249.1 1498.6 1249.0M1514.3 1247.9L1515.8 1247.8 1517.2 1247.7 1518.7 1247.7 1520.2 1247.6 1521.6 1247.5 1523.1 1247.4 1524.5 1247.4 1526.0 1247.3 1527.4 1247.2 1528.9 1247.2 1530.4 1247.1 1531.8 1247.1 1533.3 1247.0 1534.7 1247.0 1536.2 1246.9M1551.8 1246.5L1553.0 1246.5 1554.2 1246.5M1569.9 1246.5L1571.3 1246.5 1572.8 1246.5 1574.3 1246.5 1575.7 1246.5 1577.2 1246.5 1578.7 1246.6 1580.1 1246.6 1581.6 1246.6 1583.0 1246.7 1584.5 1246.7 1586.0 1246.7 1587.4 1246.8 1588.9 1246.8 1590.4 1246.9 1591.8 1246.9M1607.5 1247.6L1608.7 1247.6 1609.9 1247.7M1625.6 1248.7L1627.0 1248.8 1628.5 1248.9 1630.0 1249.0 1631.4 1249.1 1632.9 1249.2 1634.4 1249.3 1635.8 1249.4 1637.3 1249.6 1638.7 1249.7 1640.2 1249.8 1641.7 1249.9 1643.1 1250.1 1644.6 1250.2 1646.1 1250.3 1647.5 1250.5M1663.2 1252.1L1664.4 1252.2 1665.6 1252.3M1681.3 1254.2L1682.8 1254.4 1684.2 1254.6 1685.7 1254.8 1687.2 1255.0 1688.6 1255.2 1690.1 1255.4 1691.6 1255.6 1693.0 1255.8 1694.5 1256.0 1696.0 1256.2 1697.4 1256.4 1698.9 1256.6 1700.4 1256.8 1701.8 1257.0 1703.3 1257.2M1718.9 1259.6L1720.1 1259.7 1721.3 1259.9M1736.7 1262.4L1738.1 1262.7 1739.5 1262.9 1740.9 1263.2 1742.4 1263.4 1743.8 1263.6 1745.2 1263.9 1746.6 1264.1 1748.1 1264.4 1749.5 1264.6 1750.9 1264.9 1752.3 1265.1 1753.8 1265.4 1755.2 1265.6 1756.6 1265.9 1758.0 1266.1M1773.6 1269.0L1774.8 1269.2 1776.0 1269.4M1792.1 1272.5L1793.6 1272.7 1795.0 1273.0 1796.4 1273.3 1797.9 1273.6 1799.3 1273.8 1800.8 1274.1 1802.2 1274.4 1803.6 1274.7 1805.1 1275.0 1806.5 1275.2 1807.9 1275.5 1809.4 1275.8 1810.8 1276.1 1812.2 1276.4 1813.7 1276.6 1815.1 1276.9M1831.3 1280.1L1832.5 1280.4 1833.7 1280.6M1849.4 1283.7L1850.8 1284.0 1852.3 1284.3 1853.7 1284.6 1855.2 1284.8 1856.6 1285.1 1858.0 1285.4 1859.5 1285.7 1860.9 1286.0 1862.4 1286.3 1863.8 1286.5 1865.2 1286.8 1866.7 1287.1 1868.1 1287.4 1869.6 1287.7 1871.0 1288.0M1886.5 1291.0L1887.7 1291.2 1888.9 1291.4M1904.5 1294.4L1906.0 1294.7 1907.4 1295.0 1908.9 1295.3 1910.4 1295.5 1911.8 1295.8 1913.3 1296.1 1914.8 1296.4 1916.2 1296.6 1917.7 1296.9 1919.2 1297.2 1920.6 1297.4 1922.1 1297.7 1923.5 1298.0 1925.0 1298.2 1926.5 1298.5M1942.2 1301.3L1943.4 1301.5 1944.6 1301.8M1960.4 1304.5L1961.9 1304.7 1963.4 1305.0 1964.9 1305.2 1966.3 1305.5 1967.8 1305.7 1969.3 1306.0 1970.8 1306.2 1972.3 1306.4 1973.7 1306.7 1975.2 1306.9 1976.7 1307.2 1978.2 1307.4 1979.7 1307.6 1981.1 1307.9 1982.6 1308.1M1998.4 1310.6L1999.6 1310.7 2000.8 1310.9M2016.4 1313.2L2017.8 1313.4 2019.3 1313.6 2020.7 1313.8 2022.2 1314.0 2023.6 1314.2 2025.1 1314.4 2026.5 1314.6 2028.0 1314.8 2029.4 1315.0 2030.9 1315.2 2032.3 1315.4 2033.8 1315.6 2035.2 1315.8 2036.7 1316.0 2038.1 1316.1M2053.7 1318.1L2054.9 1318.3 2056.1 1318.4M2071.9 1320.2L2073.3 1320.4 2074.8 1320.6 2076.3 1320.7 2077.8 1320.9 2079.2 1321.1 2080.7 1321.2 2082.2 1321.4 2083.7 1321.5 2085.2 1321.7 2086.6 1321.8 2088.1 1322.0 2089.6 1322.1 2091.1 1322.3 2092.5 1322.5 2094.0 1322.6M2109.8 1324.1L2111.0 1324.2 2112.2 1324.3M2127.8 1325.7L2129.3 1325.8 2130.7 1326.0 2132.2 1326.1 2133.6 1326.2 2135.1 1326.3 2136.5 1326.4 2138.0 1326.5 2139.4 1326.7 2140.9 1326.8 2142.3 1326.9 2143.8 1327.0 2145.2 1327.1 2146.7 1327.2 2148.1 1327.3 2149.6 1327.4M2165.2 1328.5L2166.4 1328.6 2167.6 1328.7M2183.4 1329.7L2184.9 1329.7 2186.4 1329.8 2187.9 1329.9 2189.3 1330.0 2190.8 1330.1 2192.3 1330.2 2193.8 1330.2 2195.3 1330.3 2196.8 1330.4 2198.2 1330.5 2199.7 1330.6 2201.2 1330.6 2202.7 1330.7 2204.2 1330.8 2205.6 1330.9M2221.4 1331.6L2222.6 1331.7 2223.8 1331.7M2239.4 1332.3L2240.8 1332.4 2242.2 1332.4 2243.7 1332.5 2245.1 1332.5 2246.5 1332.6 2248.0 1332.7 2249.4 1332.7 2250.9 1332.8 2252.3 1332.8 2253.7 1332.9 2255.2 1332.9 2256.6 1332.9 2258.1 1333.0 2259.5 1333.0 2260.9 1333.1M2276.2 1333.5L2277.1 1333.6 2278.0 1333.6" fill="none" stroke="#000" stroke-width="6.6" stroke-linecap="round" stroke-linejoin="round"/>
<rect x="382.6" y="96.5" width="380.7" height="166.8" fill="#fff" stroke="#000" stroke-width="2.6"/>
<rect x="402" y="139.00" width="157.10" height="6" rx="1.2" fill="#000"/>
<rect x="402" y="220.95" width="29.00" height="6.1" rx="1.2" fill="#000"/><rect x="439.1" y="220.95" width="8.90" height="6.1" rx="1.2" fill="#000"/><rect x="458" y="220.95" width="28.00" height="6.1" rx="1.2" fill="#000"/><rect x="495.1" y="220.95" width="8.90" height="6.1" rx="1.2" fill="#000"/><rect x="513" y="220.95" width="29.00" height="6.1" rx="1.2" fill="#000"/>
<text transform="matrix(1.0024 0 0 1.0360 573.76 164.70)" style="font-family:'Liberation Sans',Arial,Helvetica,sans-serif;font-weight:normal;font-size:68.60px">HSA</text>
<text transform="matrix(1.0013 0 0 1.0300 573.71 247.60)" style="font-family:'Liberation Sans',Arial,Helvetica,sans-serif;font-weight:normal;font-size:68.60px">gHSA</text>
<rect x="379.5" y="281.3" width="389.3" height="96.2" fill="#fff" stroke="#000" stroke-width="2.6"/>
<text transform="matrix(1.0855 0 0 1.0000 397.73 357.00)" style="font-family:'Noto Serif CJK SC','Liberation Serif',serif;font-weight:normal;font-size:62.67px">Δ</text>
<text transform="matrix(1.0322 0 0 1.0000 442.57 356.10)" style="font-family:'Noto Serif CJK SC','Liberation Serif',serif;font-weight:normal;font-size:60.12px">λ</text>
<text transform="matrix(1.4723 0 0 1.0000 494.14 355.62)" style="font-family:'Liberation Sans',Arial,Helvetica,sans-serif;font-weight:bold;font-size:47.35px">=</text>
<text transform="matrix(0.9995 0 0 1.0150 547.96 357.00)" style="font-family:'Liberation Sans',Arial,Helvetica,sans-serif;font-weight:normal;font-size:73.40px">60 nm</text>
<text transform="matrix(0.9943 0 0 1.0170 790.70 220.60)" style="font-family:'Liberation Sans',Arial,Helvetica,sans-serif;font-weight:normal;font-size:68.60px">Trp-214</text>
<path d="M854.5 244V298" stroke="#000" stroke-width="2.7"/><path d="M845.5 296L863.5 296L855.7 329.5Q854.5 331.5 853.3 329.5Z" fill="#000"/>
<text transform="matrix(1.0127 0 0 1.0200 439.27 990.80)" style="font-family:'Liberation Sans',Arial,Helvetica,sans-serif;font-weight:normal;font-size:68.60px">Tyrs</text>
<path d="M498.7 1015V1070" stroke="#000" stroke-width="2.7"/><path d="M489.7 1068L507.7 1068L499.9 1101.5Q498.7 1103.5 497.5 1101.5Z" fill="#000"/>
<text transform="matrix(0.9871 0 0 1.0350 1463.86 1105.10)" style="font-family:'Liberation Sans',Arial,Helvetica,sans-serif;font-weight:normal;font-size:68.60px">AGEs</text>
<path d="M1563.5 1139V1193" stroke="#000" stroke-width="2.7"/><path d="M1554.5 1191L1572.5 1191L1564.7 1224.5Q1563.5 1226.5 1562.3 1224.5Z" fill="#000"/>
<text transform="matrix(0.9139 0 0 1.0000 1125.84 1697.90)" style="font-family:'Liberation Serif','Times New Roman',Times,serif;font-weight:normal;font-size:86.00px">(</text>
<text transform="matrix(0.9275 0 0 1.0000 1153.64 1697.40)" style="font-family:'Liberation Serif','Times New Roman',Times,serif;font-weight:bold;font-size:86.40px">a</text>
<text transform="matrix(0.9366 0 0 1.0000 1194.82 1697.90)" style="font-family:'Liberation Serif','Times New Roman',Times,serif;font-weight:normal;font-size:86.00px">)</text>
<g stroke="#000" fill="none">
<path d="M1332.5 103.2V747.9" stroke-width="2.9"/>
<path d="M1317.9 747.9H2284.5" stroke-width="3.8"/>
<path d="M1318.3 619.3H1333" stroke-width="3.6"/>
<path d="M1318.3 490.8H1333" stroke-width="3.6"/>
<path d="M1318.3 362.2H1333" stroke-width="3.6"/>
<path d="M1318.3 233.7H1333" stroke-width="3.6"/>
<path d="M1318.3 105.1H1333" stroke-width="3.6"/>
<path d="M1324.4 683.6H1333" stroke-width="3.6"/>
<path d="M1324.4 555.1H1333" stroke-width="3.6"/>
<path d="M1324.4 426.5H1333" stroke-width="3.6"/>
<path d="M1324.4 298.0H1333" stroke-width="3.6"/>
<path d="M1324.4 169.4H1333" stroke-width="3.6"/>
<path d="M1483.0 747.9V761" stroke-width="2.9"/>
<path d="M1683.0 747.9V761" stroke-width="2.9"/>
<path d="M1883.0 747.9V761" stroke-width="2.9"/>
<path d="M2083.0 747.9V761" stroke-width="2.9"/>
<path d="M2283.0 747.9V761" stroke-width="2.9"/>
<path d="M1383.0 747.9V756" stroke-width="2.9"/>
<path d="M1583.0 747.9V756" stroke-width="2.9"/>
<path d="M1783.0 747.9V756" stroke-width="2.9"/>
<path d="M1983.0 747.9V756" stroke-width="2.9"/>
<path d="M2183.0 747.9V756" stroke-width="2.9"/>
</g>
<text transform="matrix(0.9850 0 0 1.0000 1287.88 759.66)" style="font-family:'Liberation Sans',Arial,Helvetica,sans-serif;font-weight:bold;font-size:43.60px">0</text>
<text transform="matrix(0.9850 0 0 1.0000 1287.32 631.11)" style="font-family:'Liberation Sans',Arial,Helvetica,sans-serif;font-weight:bold;font-size:43.60px">5</text>
<text transform="matrix(0.9850 0 0 1.0000 1264.00 502.56)" style="font-family:'Liberation Sans',Arial,Helvetica,sans-serif;font-weight:bold;font-size:43.60px">10</text>
<text transform="matrix(0.9850 0 0 1.0000 1263.45 374.01)" style="font-family:'Liberation Sans',Arial,Helvetica,sans-serif;font-weight:bold;font-size:43.60px">15</text>
<text transform="matrix(0.9850 0 0 1.0000 1264.00 245.46)" style="font-family:'Liberation Sans',Arial,Helvetica,sans-serif;font-weight:bold;font-size:43.60px">20</text>
<text transform="matrix(0.9850 0 0 1.0000 1263.45 116.91)" style="font-family:'Liberation Sans',Arial,Helvetica,sans-serif;font-weight:bold;font-size:43.60px">25</text>
<text transform="matrix(0.9600 0 0 1.0000 1449.47 801.62)" style="font-family:'Liberation Sans',Arial,Helvetica,sans-serif;font-weight:bold;font-size:43.60px">320</text>
<text transform="matrix(0.9600 0 0 1.0000 1649.47 801.62)" style="font-family:'Liberation Sans',Arial,Helvetica,sans-serif;font-weight:bold;font-size:43.60px">340</text>
<text transform="matrix(0.9600 0 0 1.0000 1849.47 801.62)" style="font-family:'Liberation Sans',Arial,Helvetica,sans-serif;font-weight:bold;font-size:43.60px">360</text>
<text transform="matrix(0.9600 0 0 1.0000 2049.47 801.62)" style="font-family:'Liberation Sans',Arial,Helvetica,sans-serif;font-weight:bold;font-size:43.60px">380</text>
<text transform="matrix(0.9600 0 0 1.0000 2249.64 801.66)" style="font-family:'Liberation Sans',Arial,Helvetica,sans-serif;font-weight:bold;font-size:43.60px">400</text>
<text transform="matrix(1.0005 0 0 1.0000 1599.87 861.90)" style="font-family:'Liberation Sans',Arial,Helvetica,sans-serif;font-weight:normal;font-size:46.40px">Wavelength [nm]</text>
<text transform="matrix(0 -1.0008 1 0 1172.00 633.35)" style="font-family:'Liberation Sans',Arial,Helvetica,sans-serif;font-weight:normal;font-size:43.30px">Fluorescence intensity</text>
<text transform="matrix(0 -0.9808 1 0 1230.00 555.93)" style="font-family:'Liberation Sans',Arial,Helvetica,sans-serif;font-weight:normal;font-size:43.30px">(arbitrary units)</text>
<path d="M1611.9 125.1V744" stroke="#000" stroke-width="1.9" stroke-dasharray="6.4 3.33"/>
<path d="M1661.9 128V746" stroke="#000" stroke-width="1.9" stroke-dasharray="6.5 3.248"/>
<path d="M1610.5 123.6H1645" stroke="#000" stroke-width="2.4"/>
<path d="M1643 118L1647 118.3L1662.5 122.6V124.6L1647 129L1643 129.2Z" fill="#000"/>
<path d="M1333.3 534.1L1334.4 533.0 1335.5 532.0 1336.5 531.0 1337.6 529.9 1338.7 528.8 1339.7 527.8 1340.8 526.7 1341.8 525.6 1342.8 524.5 1343.9 523.4 1344.9 522.3 1345.9 521.2 1346.9 520.1 1347.9 519.0 1348.9 517.8 1349.9 516.7 1350.9 515.6 1351.8 514.4 1352.8 513.3 1353.7 512.1 1354.7 510.9 1355.6 509.8 1356.6 508.6 1357.5 507.4 1358.4 506.2 1359.3 505.1 1360.3 503.9 1361.2 502.7 1362.1 501.5 1363.0 500.3 1363.9 499.1 1364.7 497.8 1365.6 496.6 1366.5 495.4 1367.4 494.2 1368.2 492.9 1369.1 491.7 1369.9 490.5 1370.8 489.2 1371.6 488.0 1372.4 486.7 1373.3 485.5 1374.1 484.2 1374.9 483.0 1375.7 481.7 1376.6 480.5 1377.4 479.2 1378.2 477.9 1379.0 476.7 1379.8 475.4 1380.6 474.1 1381.4 472.8 1382.1 471.6 1382.9 470.3 1383.7 469.0 1384.5 467.7 1385.2 466.4 1386.0 465.1 1386.8 463.8 1387.5 462.5 1388.3 461.2 1389.0 459.9 1389.8 458.6 1390.5 457.3 1391.3 456.0 1392.0 454.7 1392.8 453.4 1393.5 452.1 1394.2 450.8 1395.0 449.5 1395.7 448.2 1396.4 446.9 1397.1 445.5 1397.8 444.2 1398.6 442.9 1399.3 441.6 1400.0 440.3 1400.7 438.9 1401.4 437.6 1402.1 436.3 1402.8 435.0 1403.5 433.6 1404.2 432.3 1404.9 431.0 1405.6 429.6 1406.3 428.3 1407.0 427.0 1407.7 425.6 1408.4 424.3 1409.1 423.0 1409.7 421.6 1410.4 420.3 1411.1 419.0 1411.8 417.6 1412.5 416.3 1413.1 415.0 1413.8 413.6 1414.5 412.3 1415.2 410.9 1415.8 409.6 1416.5 408.2 1417.2 406.9 1417.9 405.6 1418.5 404.2 1419.2 402.9 1419.9 401.5 1420.5 400.2 1421.2 398.8 1421.9 397.5 1422.5 396.1 1423.2 394.8 1423.8 393.4 1424.5 392.1 1425.2 390.8 1425.8 389.4 1426.5 388.1 1427.2 386.7 1427.8 385.4 1428.5 384.0 1429.1 382.7 1429.8 381.3 1430.5 380.0 1431.1 378.6 1431.8 377.3 1432.4 375.9 1433.1 374.6 1433.8 373.2 1434.4 371.9 1435.1 370.5 1435.7 369.2 1436.4 367.8 1437.1 366.5 1437.7 365.1 1438.4 363.8 1439.0 362.4 1439.7 361.1 1440.4 359.7 1441.0 358.4 1441.7 357.1 1442.4 355.7 1443.0 354.4 1443.7 353.0 1444.4 351.7 1445.0 350.3 1445.7 349.0 1446.4 347.6 1447.0 346.3 1447.7 345.0 1448.4 343.6 1449.1 342.3 1449.7 340.9 1450.4 339.6 1451.1 338.3 1451.8 336.9 1452.4 335.6 1453.1 334.2 1453.8 332.9 1454.5 331.6 1455.2 330.2 1455.9 328.9 1456.6 327.6 1457.3 326.2 1457.9 324.9 1458.6 323.6 1459.3 322.2 1460.0 320.9 1460.7 319.6 1461.4 318.3 1462.1 316.9 1462.9 315.6 1463.6 314.3 1464.3 313.0 1465.0 311.6 1465.7 310.3 1466.4 309.0 1467.1 307.7 1467.9 306.4 1468.6 305.1 1469.3 303.7 1470.1 302.4 1470.8 301.1 1471.5 299.8 1472.3 298.5 1473.0 297.2 1473.8 295.9 1474.5 294.6 1475.3 293.3 1476.0 292.0 1476.8 290.7 1477.6 289.4 1478.3 288.1 1479.1 286.8 1479.9 285.6 1480.6 284.3 1481.4 283.0 1482.2 281.7 1483.0 280.4 1483.8 279.2 1484.6 277.9 1485.4 276.6 1486.2 275.4 1487.0 274.1 1487.8 272.8 1488.7 271.6 1489.5 270.3 1490.3 269.1 1491.1 267.8 1492.0 266.6 1492.8 265.3 1493.7 264.1 1494.5 262.9 1495.4 261.6 1496.3 260.4 1497.1 259.2 1498.0 258.0 1498.9 256.7 1499.8 255.5 1500.7 254.3 1501.6 253.1 1502.5 251.9 1503.4 250.7 1504.3 249.5 1505.2 248.4 1506.2 247.2 1507.1 246.0 1508.0 244.8 1509.0 243.7 1509.9 242.5 1510.9 241.4 1511.9 240.2 1512.8 239.1 1513.8 237.9 1514.8 236.8 1515.8 235.7 1516.8 234.6 1517.8 233.5 1518.8 232.4 1519.9 231.3 1520.9 230.2 1521.9 229.1 1523.0 228.0 1524.0 227.0 1525.1 225.9 1526.2 224.8 1527.3 223.8 1528.4 222.8 1529.4 221.7 1530.5 220.7 1531.7 219.7 1532.8 218.7 1533.9 217.7 1535.0 216.7 1536.2 215.8 1537.3 214.8 1538.5 213.8 1539.7 212.9 1540.8 212.0 1542.0 211.0 1543.2 210.1 1544.4 209.2 1545.6 208.3 1546.8 207.5 1548.1 206.6 1549.3 205.7 1550.5 204.9 1551.8 204.1 1553.0 203.2 1554.3 202.4 1555.6 201.6 1556.9 200.9 1558.2 200.1 1559.5 199.3 1560.8 198.6 1562.1 197.9 1563.4 197.2 1564.7 196.5 1566.1 195.8 1567.4 195.1 1568.8 194.5 1570.1 193.8 1571.5 193.2 1572.9 192.6 1574.3 192.0 1575.6 191.5 1577.0 190.9 1578.4 190.4 1579.9 189.9 1581.3 189.4 1582.7 188.9 1584.1 188.5 1585.6 188.0 1587.0 187.6 1588.5 187.2 1589.9 186.9 1591.4 186.5 1592.8 186.2 1594.3 185.9 1595.8 185.6 1597.3 185.3 1598.8 185.1 1600.2 184.9 1601.7 184.7 1603.2 184.5 1604.7 184.4 1606.2 184.3 1607.7 184.2 1609.2 184.1 1610.7 184.0 1612.2 184.0 1613.7 184.0 1615.2 184.0 1616.7 184.1 1618.2 184.2 1619.7 184.3 1621.2 184.4 1622.7 184.5 1624.2 184.7 1625.7 184.9 1627.2 185.1 1628.7 185.3 1630.1 185.6 1631.6 185.9 1633.1 186.1 1634.5 186.5 1636.0 186.8 1637.5 187.2 1638.9 187.5 1640.4 187.9 1641.8 188.3 1643.3 188.8 1644.7 189.2 1646.1 189.7 1647.5 190.1 1649.0 190.6 1650.4 191.1 1651.8 191.7 1653.2 192.2 1654.6 192.8 1656.0 193.3 1657.4 193.9 1658.7 194.5 1660.1 195.1 1661.5 195.7 1662.8 196.3 1664.2 197.0 1665.6 197.6 1666.9 198.3 1668.3 198.9 1669.6 199.6 1670.9 200.3 1672.3 201.0 1673.6 201.7 1674.9 202.4 1676.2 203.1 1677.5 203.9 1678.8 204.6 1680.1 205.4 1681.4 206.1 1682.7 206.9 1684.0 207.6 1685.3 208.4 1686.6 209.2 1687.9 210.0 1689.2 210.7 1690.4 211.5 1691.7 212.3 1693.0 213.1 1694.2 213.9 1695.5 214.8 1696.8 215.6 1698.0 216.4 1699.3 217.2 1700.5 218.1 1701.8 218.9 1703.0 219.7 1704.2 220.6 1705.5 221.4 1706.7 222.3 1708.0 223.2 1709.2 224.0 1710.4 224.9 1711.6 225.7 1712.9 226.6 1714.1 227.5 1715.3 228.4 1716.5 229.3 1717.7 230.1 1718.9 231.0 1720.1 231.9 1721.4 232.8 1722.6 233.7 1723.8 234.6 1725.0 235.5 1726.2 236.4 1727.4 237.3 1728.6 238.2 1729.7 239.1 1730.9 240.1 1732.1 241.0 1733.3 241.9 1734.5 242.8 1735.7 243.7 1736.9 244.7 1738.0 245.6 1739.2 246.5 1740.4 247.4 1741.6 248.4 1742.7 249.3 1743.9 250.3 1745.1 251.2 1746.3 252.1 1747.4 253.1 1748.6 254.0 1749.8 255.0 1750.9 255.9 1752.1 256.9 1753.2 257.8 1754.4 258.8 1755.6 259.7 1756.7 260.7 1757.9 261.6 1759.0 262.6 1760.2 263.6 1761.3 264.5 1762.5 265.5 1763.6 266.5 1764.8 267.4 1765.9 268.4 1767.1 269.4 1768.2 270.3 1769.4 271.3 1770.5 272.3 1771.7 273.3 1772.8 274.2 1773.9 275.2 1775.1 276.2 1776.2 277.2 1777.4 278.1 1778.5 279.1 1779.6 280.1 1780.8 281.1 1781.9 282.1 1783.0 283.0 1784.2 284.0 1785.3 285.0 1786.4 286.0 1787.6 287.0 1788.7 288.0 1789.8 288.9 1791.0 289.9 1792.1 290.9 1793.2 291.9 1794.4 292.9 1795.5 293.9 1796.6 294.9 1797.8 295.9 1798.9 296.8 1800.0 297.8 1801.2 298.8 1802.3 299.8 1803.4 300.8 1804.5 301.8 1805.7 302.8 1806.8 303.8 1807.9 304.7 1809.1 305.7 1810.2 306.7 1811.3 307.7 1812.5 308.7 1813.6 309.7 1814.7 310.6 1815.9 311.6 1817.0 312.6 1818.1 313.6 1819.3 314.6 1820.4 315.6 1821.6 316.5 1822.7 317.5 1823.8 318.5 1825.0 319.5 1826.1 320.5 1827.3 321.4 1828.4 322.4 1829.5 323.4 1830.7 324.3 1831.8 325.3 1833.0 326.3 1834.1 327.3 1835.3 328.2 1836.4 329.2 1837.6 330.2 1838.7 331.1 1839.9 332.1 1841.0 333.0 1842.2 334.0 1843.3 335.0 1844.5 335.9 1845.6 336.9 1846.8 337.8 1848.0 338.8 1849.1 339.7 1850.3 340.7 1851.5 341.6 1852.6 342.6 1853.8 343.5 1855.0 344.5 1856.1 345.4 1857.3 346.3 1858.5 347.3 1859.7 348.2 1860.8 349.1 1862.0 350.1 1863.2 351.0 1864.4 351.9 1865.5 352.9 1866.7 353.8 1867.9 354.7 1869.1 355.6 1870.3 356.5 1871.5 357.4 1872.7 358.4 1873.9 359.3 1875.1 360.2 1876.3 361.1 1877.5 362.0 1878.7 362.9 1879.9 363.8 1881.1 364.7 1882.3 365.6 1883.5 366.5 1884.7 367.4 1885.9 368.3 1887.1 369.2 1888.3 370.0 1889.5 370.9 1890.7 371.8 1892.0 372.7 1893.2 373.6 1894.4 374.4 1895.6 375.3 1896.8 376.2 1898.1 377.0 1899.3 377.9 1900.5 378.8 1901.8 379.6 1903.0 380.5 1904.2 381.4 1905.4 382.2 1906.7 383.1 1907.9 383.9 1909.2 384.8 1910.4 385.6 1911.6 386.5 1912.9 387.3 1914.1 388.2 1915.4 389.0 1916.6 389.8 1917.9 390.7 1919.1 391.5 1920.4 392.3 1921.6 393.2 1922.9 394.0 1924.1 394.8 1925.4 395.7 1926.6 396.5 1927.9 397.3 1929.1 398.1 1930.4 398.9 1931.6 399.8 1932.9 400.6 1934.2 401.4 1935.4 402.2 1936.7 403.0 1938.0 403.8 1939.2 404.6 1940.5 405.4 1941.8 406.2 1943.0 407.0 1944.3 407.8 1945.6 408.6 1946.8 409.4 1948.1 410.2 1949.4 411.0 1950.6 411.8 1951.9 412.6 1953.2 413.4 1954.5 414.2 1955.7 415.0 1957.0 415.8 1958.3 416.6 1959.6 417.4 1960.9 418.2 1962.1 418.9 1963.4 419.7 1964.7 420.5 1966.0 421.3 1967.3 422.1 1968.5 422.9 1969.8 423.6 1971.1 424.4 1972.4 425.2 1973.7 426.0 1975.0 426.7 1976.3 427.5 1977.5 428.3 1978.8 429.1 1980.1 429.8 1981.4 430.6 1982.7 431.4 1984.0 432.1 1985.3 432.9 1986.6 433.7 1987.9 434.4 1989.2 435.2 1990.5 435.9 1991.8 436.7 1993.0 437.5 1994.3 438.2 1995.6 439.0 1996.9 439.7 1998.2 440.5 1999.5 441.3 2000.8 442.0 2002.1 442.8 2003.4 443.5 2004.7 444.3 2006.0 445.0 2007.3 445.8 2008.6 446.5 2009.9 447.3 2011.2 448.0 2012.5 448.8 2013.8 449.5 2015.1 450.2 2016.4 451.0 2017.8 451.7 2019.1 452.5 2020.4 453.2 2021.7 453.9 2023.0 454.7 2024.3 455.4 2025.6 456.2 2026.9 456.9 2028.2 457.6 2029.5 458.4 2030.8 459.1 2032.2 459.8 2033.5 460.5 2034.8 461.3 2036.1 462.0 2037.4 462.7 2038.7 463.4 2040.0 464.2 2041.4 464.9 2042.7 465.6 2044.0 466.3 2045.3 467.0 2046.6 467.8 2048.0 468.5 2049.3 469.2 2050.6 469.9 2051.9 470.6 2053.2 471.3 2054.6 472.0 2055.9 472.7 2057.2 473.4 2058.6 474.1 2059.9 474.8 2061.2 475.5 2062.5 476.2 2063.9 476.9 2065.2 477.6 2066.5 478.3 2067.9 479.0 2069.2 479.7 2070.5 480.4 2071.9 481.0 2073.2 481.7 2074.5 482.4 2075.9 483.1 2077.2 483.8 2078.6 484.4 2079.9 485.1 2081.2 485.8 2082.6 486.5 2083.9 487.1 2085.3 487.8 2086.6 488.5 2088.0 489.1 2089.3 489.8 2090.7 490.4 2092.0 491.1 2093.4 491.8 2094.7 492.4 2096.1 493.1 2097.4 493.7 2098.8 494.4 2100.1 495.0 2101.5 495.6 2102.9 496.3 2104.2 496.9 2105.6 497.6 2106.9 498.2 2108.3 498.8 2109.7 499.4 2111.0 500.1 2112.4 500.7 2113.8 501.3 2115.1 501.9 2116.5 502.5 2117.9 503.2 2119.2 503.8 2120.6 504.4 2122.0 505.0 2123.4 505.6 2124.7 506.2 2126.1 506.8 2127.5 507.4 2128.9 508.0 2130.3 508.6 2131.6 509.2 2133.0 509.7 2134.4 510.3 2135.8 510.9 2137.2 511.5 2138.6 512.1 2139.9 512.6 2141.3 513.2 2142.7 513.8 2144.1 514.3 2145.5 514.9 2146.9 515.4 2148.3 516.0 2149.7 516.5 2151.1 517.1 2152.5 517.6 2153.9 518.2 2155.3 518.7 2156.7 519.3 2158.1 519.8 2159.5 520.3 2160.9 520.9 2162.3 521.4 2163.7 521.9 2165.1 522.4 2166.5 522.9 2168.0 523.5 2169.4 524.0 2170.8 524.5 2172.2 525.0 2173.6 525.5 2175.0 526.0 2176.4 526.5 2177.9 527.0 2179.3 527.4 2180.7 527.9 2182.1 528.4 2183.5 528.9 2185.0 529.4 2186.4 529.8 2187.8 530.3 2189.2 530.8 2190.7 531.2 2192.1 531.7 2193.5 532.2 2195.0 532.6 2196.4 533.1 2197.8 533.5 2199.3 533.9 2200.7 534.4 2202.1 534.8 2203.6 535.3 2205.0 535.7 2206.5 536.1 2207.9 536.5 2209.3 537.0 2210.8 537.4 2212.2 537.8 2213.7 538.2 2215.1 538.6 2216.6 539.0 2218.0 539.4 2219.5 539.8 2220.9 540.2 2222.3 540.6 2223.8 541.0 2225.2 541.4 2226.7 541.8 2228.2 542.1 2229.6 542.5 2231.1 542.9 2232.5 543.2 2234.0 543.6 2235.4 544.0 2236.9 544.3 2238.3 544.7 2239.8 545.0 2241.3 545.4 2242.7 545.7 2244.2 546.1 2245.7 546.4 2247.1 546.7 2248.6 547.1 2250.0 547.4 2251.5 547.7 2253.0 548.1 2254.4 548.4 2255.9 548.7 2257.4 549.0 2258.9 549.3 2260.3 549.6 2261.8 549.9 2263.3 550.2 2264.7 550.5 2266.2 550.8 2267.7 551.1 2269.2 551.4 2270.6 551.7 2272.1 552.0 2273.6 552.2 2275.1 552.5 2276.5 552.8 2278.0 553.1 2279.5 553.3 2281.0 553.6 2282.4 553.8 2283.9 554.1 2285.4 554.4" fill="none" stroke="#000" stroke-width="3.5" stroke-linejoin="round"/>
<path d="M1333.5 693.7L1334.6 693.5 1335.7 693.3 1336.8 693.1 1337.8 692.8 1338.9 692.6 1340.0 692.4 1341.1 692.1 1342.2 691.9 1343.2 691.6M1351.6 689.7L1352.6 689.4M1360.9 687.4L1361.9 687.1 1363.0 686.8 1364.0 686.5 1365.1 686.2 1366.2 685.9 1367.2 685.7 1368.3 685.4 1369.3 685.1 1370.4 684.8 1371.4 684.5M1379.9 682.0L1380.9 681.6M1389.5 678.9L1390.6 678.5 1391.7 678.1 1392.8 677.8 1393.9 677.4 1395.0 677.0 1396.1 676.6 1397.2 676.3 1398.3 675.9 1399.4 675.5 1400.5 675.1M1409.1 671.9L1410.1 671.5M1418.6 668.2L1419.7 667.8 1420.7 667.4 1421.8 667.0 1422.9 666.5 1423.9 666.1 1425.0 665.7 1426.1 665.3 1427.1 664.8 1428.2 664.4 1429.3 664.0M1437.7 660.6L1438.7 660.2M1447.1 656.9L1448.2 656.5 1449.2 656.1 1450.3 655.7 1451.4 655.3 1452.4 654.9 1453.5 654.5 1454.6 654.1 1455.6 653.7 1456.7 653.3 1457.8 652.9M1466.2 650.0L1467.2 649.6M1475.7 646.9L1476.8 646.6 1477.9 646.3 1478.9 645.9 1480.0 645.6 1481.1 645.3 1482.2 645.0 1483.3 644.7 1484.3 644.4 1485.4 644.1 1486.5 643.8M1495.0 641.7L1496.0 641.5M1504.4 639.7L1505.5 639.5 1506.7 639.2 1507.9 639.0 1509.0 638.8 1510.2 638.6 1511.4 638.3 1512.5 638.1 1513.7 637.9 1514.9 637.7M1523.2 636.3L1524.2 636.2M1532.6 634.9L1533.8 634.7 1535.0 634.6 1536.2 634.4 1537.4 634.2 1538.5 634.1 1539.7 633.9 1540.9 633.7 1542.1 633.6 1543.3 633.4M1551.7 632.3L1552.7 632.1M1561.0 631.0L1562.2 630.9 1563.4 630.7 1564.5 630.6 1565.7 630.4 1566.9 630.2 1568.0 630.1 1569.2 629.9 1570.4 629.8 1571.6 629.6M1579.9 628.5L1580.9 628.4M1589.3 627.4L1590.5 627.2 1591.7 627.1 1592.9 626.9 1594.1 626.8 1595.3 626.6 1596.5 626.5 1597.7 626.4 1598.9 626.2 1600.0 626.1M1608.5 625.1L1609.5 625.0M1617.9 624.2L1619.1 624.1 1620.3 624.0 1621.5 623.9 1622.6 623.8 1623.8 623.7 1625.0 623.6 1626.2 623.5 1627.4 623.4 1628.5 623.3M1637.0 622.7L1638.0 622.7M1646.6 622.2L1647.6 622.2 1648.7 622.1 1649.8 622.1 1650.9 622.0 1652.0 622.0 1653.1 622.0 1654.2 621.9 1655.3 621.9 1656.3 621.9 1657.4 621.8M1666.0 621.7L1667.0 621.7M1675.5 621.7L1676.7 621.7 1677.9 621.7 1679.0 621.7 1680.2 621.7 1681.4 621.7 1682.6 621.7 1683.8 621.7 1685.0 621.8 1686.2 621.8M1694.6 622.0L1695.6 622.0M1704.0 622.3L1705.2 622.4 1706.4 622.5 1707.6 622.5 1708.8 622.6 1709.9 622.6 1711.1 622.7 1712.3 622.7 1713.5 622.8 1714.7 622.8M1723.1 623.3L1724.1 623.4M1732.5 623.9L1733.7 624.0 1734.9 624.0 1736.1 624.1 1737.3 624.2 1738.4 624.3 1739.6 624.3 1740.8 624.4 1742.0 624.5 1743.2 624.6M1751.6 625.1L1752.6 625.2M1761.0 625.8L1762.2 625.8 1763.4 625.9 1764.6 626.0 1765.7 626.1 1766.9 626.1 1768.1 626.2 1769.3 626.3 1770.5 626.4 1771.7 626.4M1780.1 627.0L1781.1 627.0M1789.6 627.5L1790.7 627.6 1791.8 627.6 1792.9 627.7 1793.9 627.8 1795.0 627.8 1796.1 627.9 1797.2 627.9 1798.3 628.0 1799.4 628.0 1800.4 628.1M1808.9 628.5L1809.9 628.5M1818.2 628.8L1819.3 628.8 1820.5 628.9 1821.7 628.9 1822.8 628.9 1824.0 629.0 1825.1 629.0 1826.3 629.0 1827.4 629.1 1828.6 629.1M1836.9 629.2L1837.9 629.2M1846.4 629.3L1847.5 629.3 1848.6 629.3 1849.7 629.3 1850.8 629.3 1851.8 629.3 1852.9 629.3 1854.0 629.3 1855.1 629.3 1856.2 629.3 1857.3 629.3M1865.9 629.2L1866.9 629.2M1875.5 628.9L1876.6 628.9 1877.7 628.9 1878.8 628.8 1879.9 628.8 1881.0 628.8 1882.1 628.7 1883.2 628.7 1884.3 628.6 1885.4 628.6 1886.5 628.5M1895.0 628.1L1896.0 628.1M1904.3 627.6L1905.4 627.5 1906.6 627.4 1907.8 627.4 1908.9 627.3 1910.1 627.2 1911.2 627.1 1912.4 627.0 1913.5 626.9 1914.7 626.9M1922.9 626.2L1923.9 626.1M1932.3 625.3L1933.5 625.2 1934.7 625.1 1935.9 625.0 1937.1 624.9 1938.3 624.7 1939.5 624.6 1940.6 624.5 1941.8 624.3 1943.0 624.2M1951.5 623.2L1952.5 623.1M1960.9 622.1L1962.1 621.9 1963.3 621.7 1964.5 621.6 1965.7 621.4 1966.8 621.2 1968.0 621.1 1969.2 620.9 1970.4 620.7 1971.6 620.6M1980.0 619.3L1981.0 619.2M1989.4 617.8L1990.5 617.6 1991.6 617.4 1992.6 617.3 1993.7 617.1 1994.7 616.9 1995.8 616.7 1996.9 616.5 1997.9 616.3 1999.0 616.2 2000.1 616.0M2008.5 614.4L2009.5 614.2M2018.0 612.6L2019.0 612.3 2020.1 612.1 2021.2 611.9 2022.2 611.7 2023.3 611.5 2024.4 611.2 2025.5 611.0 2026.5 610.8 2027.6 610.6 2028.7 610.3M2037.1 608.5L2038.1 608.2M2046.5 606.3L2047.6 606.0 2048.6 605.8 2049.7 605.5 2050.7 605.3 2051.8 605.0 2052.9 604.8 2053.9 604.5 2055.0 604.2 2056.1 604.0 2057.1 603.7M2065.5 601.6L2066.5 601.3M2074.9 599.1L2076.0 598.8 2077.1 598.5 2078.1 598.2 2079.2 597.9 2080.3 597.6 2081.3 597.3 2082.4 597.1 2083.5 596.8 2084.5 596.5 2085.6 596.2M2094.0 593.8L2095.0 593.5M2103.4 591.1L2104.4 590.7 2105.5 590.4 2106.5 590.1 2107.6 589.8 2108.6 589.5 2109.7 589.2 2110.8 588.9 2111.8 588.5 2112.9 588.2 2113.9 587.9M2122.4 585.3L2123.4 585.0M2132.2 582.3L2133.3 582.0 2134.4 581.6 2135.5 581.3 2136.7 580.9 2137.8 580.6 2138.9 580.2 2140.0 579.9 2141.2 579.5 2142.3 579.2 2143.4 578.8M2152.1 576.1L2153.1 575.8M2161.4 573.2L2162.5 572.9 2163.7 572.5 2164.8 572.2 2166.0 571.8 2167.1 571.5 2168.2 571.1 2169.4 570.8 2170.5 570.4 2171.7 570.1M2179.9 567.6L2180.9 567.3M2189.5 564.8L2190.6 564.5 2191.7 564.2 2192.7 563.9 2193.8 563.5 2194.9 563.2 2196.0 562.9 2197.1 562.6 2198.2 562.3 2199.3 562.0 2200.4 561.7M2209.0 559.4L2210.0 559.1M2218.3 557.0L2219.4 556.7 2220.5 556.4 2221.7 556.2 2222.8 555.9 2224.0 555.6 2225.1 555.3 2226.3 555.1 2227.4 554.8 2228.5 554.5M2236.8 552.7L2237.8 552.5M2246.3 550.7L2247.4 550.5 2248.4 550.3 2249.5 550.1 2250.6 549.9 2251.7 549.7 2252.8 549.5 2253.9 549.3 2255.0 549.1 2256.1 548.9 2257.2 548.7M2265.9 547.3L2266.9 547.1" fill="none" stroke="#000" stroke-width="3.7" stroke-linecap="round" stroke-linejoin="round"/>
<text transform="matrix(1.0940 0 0 1.0000 1520.29 82.80)" style="font-family:'Noto Serif CJK SC','Liberation Serif',serif;font-weight:normal;font-size:36.38px">Δ</text>
<text transform="matrix(1.0458 0 0 1.0000 1546.56 82.28)" style="font-family:'Noto Serif CJK SC','Liberation Serif',serif;font-weight:normal;font-size:34.76px">λ</text>
<text transform="matrix(0.9977 0 0 1.0000 1568.22 100.00)" style="font-family:'Liberation Sans',Arial,Helvetica,sans-serif;font-weight:normal;font-size:25.50px">max</text>
<text transform="matrix(1.1733 0 0 1.0000 1629.26 79.35)" style="font-family:'Liberation Sans',Arial,Helvetica,sans-serif;font-weight:bold;font-size:34.13px">=</text>
<text transform="matrix(1.0015 0 0 1.0200 1665.78 82.60)" style="font-family:'Liberation Sans',Arial,Helvetica,sans-serif;font-weight:normal;font-size:43.30px">+ 5 nm</text>
<rect x="2039.1" y="108.9" width="242.4" height="105.9" fill="#fff" stroke="#000" stroke-width="2"/>
<rect x="2050.9" y="135.90" width="100.20" height="3" rx="0.8" fill="#000"/>
<rect x="2050.9" y="187.90" width="16.20" height="4" rx="1.8" fill="#000"/><rect x="2070.9" y="187.90" width="5.20" height="4" rx="1.8" fill="#000"/><rect x="2080" y="187.90" width="15.00" height="4" rx="1.8" fill="#000"/><rect x="2099" y="187.90" width="5.10" height="4" rx="1.8" fill="#000"/><rect x="2109" y="187.90" width="15.00" height="4" rx="1.8" fill="#000"/><rect x="2127.9" y="187.90" width="5.20" height="4" rx="1.8" fill="#000"/>
<text transform="matrix(1.0013 0 0 1.0270 2161.64 151.90)" style="font-family:'Liberation Sans',Arial,Helvetica,sans-serif;font-weight:normal;font-size:43.40px">HSA</text>
<text transform="matrix(0.9983 0 0 1.0370 2162.08 205.00)" style="font-family:'Liberation Sans',Arial,Helvetica,sans-serif;font-weight:normal;font-size:43.30px">gHSA</text>
<rect x="2018.2" y="223.1" width="263.8" height="68.6" fill="#fff" stroke="#000" stroke-width="2.2"/>
<text transform="matrix(1.0565 0 0 1.0000 2030.34 267.37)" style="font-family:'Noto Serif CJK SC','Liberation Serif',serif;font-weight:normal;font-size:35.24px">λ</text>
<text transform="matrix(1.0008 0 0 1.0000 2051.79 284.70)" style="font-family:'Liberation Sans',Arial,Helvetica,sans-serif;font-weight:normal;font-size:26.40px">ex</text>
<text transform="matrix(1.1469 0 0 1.0000 2092.58 264.38)" style="font-family:'Liberation Sans',Arial,Helvetica,sans-serif;font-weight:bold;font-size:34.39px">=</text>
<text transform="matrix(1.0055 0 0 1.0270 2128.03 267.90)" style="font-family:'Liberation Sans',Arial,Helvetica,sans-serif;font-weight:normal;font-size:43.10px">295 nm</text>
</svg>
</body></html>
